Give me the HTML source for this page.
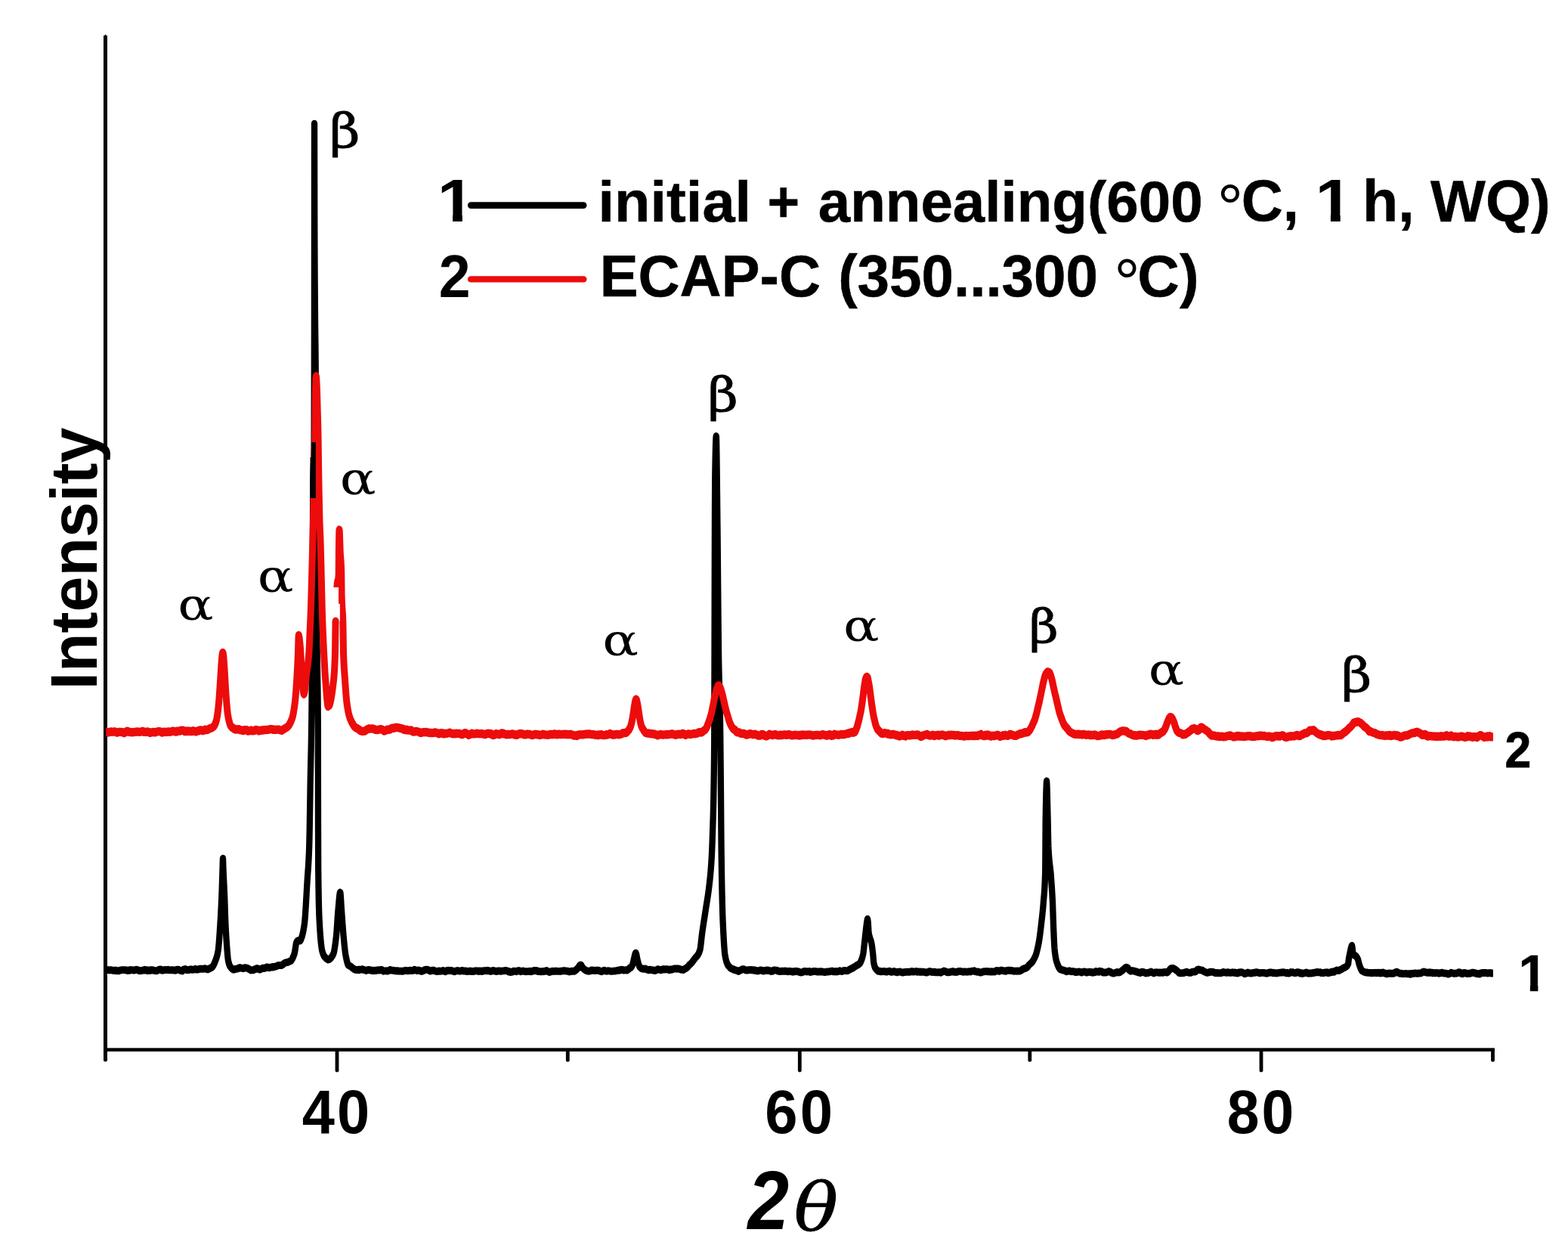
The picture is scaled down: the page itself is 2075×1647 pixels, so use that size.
<!DOCTYPE html>
<html lang="en">
<head>
<meta charset="utf-8">
<title>XRD patterns</title>
<style>
html,body{margin:0;padding:0;background:#fff;}
body{width:2075px;height:1647px;overflow:hidden;}
svg{display:block;position:absolute;left:0;top:0;}
text{fill:#000;font-size:100px;}
.ls{font-family:"Liberation Sans",Arial,Helvetica,sans-serif;}
.gk{font-family:"DejaVu Serif","Liberation Serif",serif;}
.b{font-weight:700;}
.i{font-style:italic;}
</style>
</head>
<body>
<svg width="2075" height="1647" viewBox="0 0 2075 1647">
<rect x="0" y="0" width="2075" height="1647" fill="#ffffff"/>
<!-- y label -->
<text class="ls b" transform="translate(127.70,912.48) rotate(-90) scale(0.8438,0.8680)">Intensity</text>
<!-- axes -->
<path d="M137,47.4 q0,-0.6 1.6,-0.7 l0.9,-1.4 l0.9,1.4 q1.6,0.1 1.6,0.7 V1402.8 q0,1.8 -2.5,1.8 q-2.5,0 -2.5,-1.8 Z" fill="#000"/>
<rect x="137" y="1386.4" width="1840.9" height="4.6" fill="#000"/>
<path d="M443.6,1388 h4.8 v28.6 q0,1.8 -2.4,1.8 q-2.4,0 -2.4,-1.8 z" fill="#000"/>
<path d="M748.9,1388 h4.8 v15 q0,1.8 -2.4,1.8 q-2.4,0 -2.4,-1.8 z" fill="#000"/>
<path d="M1055.9,1388 h4.8 v28.6 q0,1.8 -2.4,1.8 q-2.4,0 -2.4,-1.8 z" fill="#000"/>
<path d="M1360.4,1388 h4.8 v15 q0,1.8 -2.4,1.8 q-2.4,0 -2.4,-1.8 z" fill="#000"/>
<path d="M1666.6,1388 h4.8 v28.6 q0,1.8 -2.4,1.8 q-2.4,0 -2.4,-1.8 z" fill="#000"/>
<path d="M1973.1,1388 h4.8 v15 q0,1.8 -2.4,1.8 q-2.4,0 -2.4,-1.8 z" fill="#000"/>

<!-- curves -->
<g transform="scale(1,1.19)">
<polyline id="c1" points="140.30,1078.28 141.30,1078.28 142.30,1078.28 143.30,1078.19 144.30,1078.56 145.30,1078.47 146.30,1078.32 147.30,1078.33 148.30,1078.56 149.30,1078.85 150.30,1078.95 151.30,1079.03 152.30,1078.60 153.30,1078.77 154.30,1079.28 155.30,1079.17 156.30,1079.26 157.30,1079.26 158.30,1078.76 159.30,1078.58 160.30,1078.43 161.30,1078.21 162.30,1078.25 163.30,1078.25 164.30,1078.29 165.30,1078.35 166.30,1078.48 167.30,1078.59 168.30,1078.99 169.30,1078.62 170.30,1078.90 171.30,1078.77 172.30,1078.17 173.30,1078.48 174.30,1078.21 175.30,1078.50 176.30,1078.54 177.30,1078.63 178.30,1078.63 179.30,1078.01 180.30,1077.97 181.30,1078.06 182.30,1078.19 183.30,1078.82 184.30,1079.21 185.30,1079.16 186.30,1079.02 187.30,1079.05 188.30,1078.73 189.30,1078.61 190.30,1078.67 191.30,1078.03 192.30,1078.52 193.30,1078.37 194.30,1078.26 195.30,1079.11 196.30,1078.62 197.30,1078.67 198.30,1079.04 199.30,1078.30 200.30,1078.39 201.30,1078.62 202.30,1078.37 203.30,1078.74 204.30,1078.92 205.30,1079.10 206.30,1079.23 207.30,1079.22 208.30,1078.98 209.30,1078.50 210.30,1077.83 211.30,1077.85 212.30,1077.59 213.30,1077.94 214.30,1078.79 215.30,1078.39 216.30,1078.64 217.30,1078.32 218.30,1078.08 219.30,1078.12 220.30,1078.24 221.30,1078.22 222.30,1077.97 223.30,1078.45 224.30,1078.25 225.30,1078.38 226.30,1078.49 227.30,1078.38 228.30,1078.30 229.30,1078.53 230.30,1078.55 231.30,1078.54 232.30,1078.83 233.30,1078.20 234.30,1077.94 235.30,1077.91 236.30,1077.89 237.30,1078.23 238.30,1078.77 239.30,1079.07 240.30,1079.03 241.30,1079.47 242.30,1078.58 243.30,1077.60 244.30,1077.78 245.30,1077.26 246.30,1077.82 247.30,1078.38 248.30,1078.13 249.30,1078.32 250.30,1078.19 251.30,1077.69 252.30,1077.72 253.30,1077.57 254.30,1077.92 255.30,1077.96 256.30,1077.87 257.30,1077.68 258.30,1077.18 259.30,1077.76 260.30,1077.78 261.30,1077.70 262.30,1077.70 263.30,1077.41 264.30,1077.01 265.30,1076.96 266.30,1077.17 267.30,1077.08 268.00,1077.14 268.20,1077.16 268.40,1077.16 268.60,1077.14 268.80,1077.13 269.00,1077.12 269.20,1077.12 269.40,1077.09 269.60,1077.03 269.80,1076.98 270.00,1076.93 270.20,1076.89 270.40,1076.83 270.60,1076.76 270.80,1076.69 271.00,1076.63 271.20,1076.57 271.40,1076.58 271.60,1076.68 271.80,1076.77 272.00,1076.86 272.20,1076.96 272.40,1077.04 272.60,1077.13 272.80,1077.21 273.00,1077.29 273.20,1077.37 273.40,1077.43 273.60,1077.48 273.80,1077.52 274.00,1077.56 274.20,1077.60 274.40,1077.63 274.60,1077.65 274.80,1077.66 275.00,1077.66 275.20,1077.66 275.40,1077.60 275.60,1077.50 275.80,1077.38 276.00,1077.25 276.20,1077.12 276.40,1077.02 276.60,1076.96 276.80,1076.89 277.00,1076.83 277.20,1076.75 277.40,1076.68 277.60,1076.60 277.80,1076.51 278.00,1076.43 278.20,1076.34 278.40,1076.26 278.60,1076.19 278.80,1076.11 279.00,1076.03 279.20,1075.94 279.40,1075.86 279.60,1075.78 279.80,1075.70 280.00,1075.61 280.20,1075.52 280.40,1075.41 280.50,1075.34 280.60,1075.27 280.80,1075.12 281.00,1074.94 281.20,1074.74 281.40,1074.52 281.60,1074.26 281.80,1074.00 282.00,1073.72 282.20,1073.43 282.40,1073.13 282.60,1072.83 282.80,1072.51 283.00,1072.18 283.20,1071.84 283.40,1071.48 283.60,1071.10 283.80,1070.72 284.00,1070.32 284.20,1069.92 284.40,1069.50 284.60,1069.08 284.80,1068.64 285.00,1068.21 285.20,1067.76 285.40,1067.32 285.50,1067.11 285.60,1066.90 285.80,1066.46 286.00,1066.01 286.20,1065.53 286.40,1065.04 286.60,1064.51 286.80,1063.96 287.00,1063.37 287.20,1062.75 287.40,1062.08 287.60,1061.37 287.80,1060.62 288.00,1059.81 288.20,1058.96 288.40,1058.04 288.60,1057.06 288.80,1055.94 289.00,1054.60 289.20,1053.06 289.40,1051.33 289.60,1049.43 289.80,1047.39 290.00,1045.21 290.20,1042.92 290.40,1040.53 290.60,1038.06 290.80,1035.52 291.00,1032.94 291.20,1030.32 291.40,1027.70 291.50,1026.38 291.60,1025.06 291.80,1022.30 292.00,1019.41 292.20,1016.37 292.40,1013.18 292.60,1009.83 292.80,1006.32 293.00,1002.65 293.20,998.80 293.35,995.80 293.40,994.76 293.60,990.18 293.80,985.12 294.00,979.76 294.20,974.32 294.40,969.00 294.55,965.21 294.60,963.88 294.80,957.78 295.00,954.41 295.20,957.95 295.40,964.01 295.45,965.21 295.60,968.25 295.80,972.01 296.00,975.52 296.20,978.88 296.40,982.18 296.60,985.54 296.80,989.03 297.00,992.78 297.15,995.80 297.20,996.87 297.40,1001.61 297.60,1006.85 297.80,1012.26 298.00,1017.53 298.20,1022.34 298.40,1026.39 298.60,1029.85 298.80,1033.12 299.00,1036.22 299.20,1039.16 299.40,1041.94 299.60,1044.58 299.80,1047.09 300.00,1049.48 300.20,1051.76 300.40,1053.95 300.60,1056.05 300.70,1057.07 300.80,1058.08 301.00,1060.11 301.20,1062.07 301.40,1063.89 301.60,1065.47 301.80,1066.75 301.90,1067.25 302.00,1067.68 302.20,1068.51 302.40,1069.29 302.60,1070.01 302.80,1070.68 303.00,1071.29 303.20,1071.86 303.40,1072.37 303.60,1072.84 303.80,1073.25 304.00,1073.62 304.20,1073.93 304.40,1074.21 304.50,1074.34 304.60,1074.46 304.80,1074.69 305.00,1074.92 305.20,1075.14 305.40,1075.35 305.60,1075.55 305.80,1075.74 306.00,1075.92 306.20,1076.10 306.40,1076.27 306.60,1076.45 306.80,1076.62 307.00,1076.78 307.20,1076.94 307.40,1077.09 307.60,1077.23 307.80,1077.37 308.00,1077.50 308.20,1077.62 308.40,1077.71 308.60,1077.77 308.80,1077.81 309.00,1077.85 309.20,1077.88 309.40,1077.89 309.60,1077.88 309.80,1077.87 310.00,1077.85 310.20,1077.81 310.40,1077.75 310.60,1077.64 310.80,1077.53 311.00,1077.42 311.20,1077.30 311.40,1077.24 311.60,1077.23 311.80,1077.23 312.00,1077.22 312.20,1077.21 312.40,1077.19 312.60,1077.17 312.80,1077.14 313.00,1077.11 313.20,1077.08 313.40,1077.03 313.60,1076.96 313.80,1076.89 314.00,1076.82 314.20,1076.75 314.40,1076.72 314.60,1076.72 314.80,1076.72 315.00,1076.73 315.20,1076.74 315.40,1076.66 315.60,1076.48 315.80,1076.31 316.00,1076.15 316.20,1076.00 316.40,1075.89 316.60,1075.84 316.80,1075.79 317.00,1075.75 317.30,1075.70 318.30,1075.75 319.30,1076.20 320.30,1076.37 321.30,1076.59 322.30,1076.63 323.30,1075.95 324.30,1075.85 325.30,1075.94 326.30,1075.96 327.30,1076.27 328.00,1076.79 328.20,1076.94 328.40,1077.04 328.60,1077.07 328.80,1077.10 329.00,1077.14 329.20,1077.19 329.40,1077.24 329.60,1077.30 329.80,1077.37 330.00,1077.43 330.20,1077.50 330.40,1077.61 330.60,1077.75 330.80,1077.90 331.00,1078.04 331.20,1078.19 331.40,1078.30 331.60,1078.36 331.80,1078.42 332.00,1078.48 332.20,1078.54 332.40,1078.57 332.60,1078.55 332.80,1078.53 333.00,1078.51 333.20,1078.49 333.40,1078.48 333.60,1078.48 333.80,1078.48 334.00,1078.47 334.20,1078.46 334.40,1078.46 334.60,1078.45 334.80,1078.44 335.00,1078.43 335.20,1078.41 335.40,1078.33 335.60,1078.18 335.80,1078.03 336.00,1077.88 336.20,1077.72 336.40,1077.64 336.60,1077.65 336.80,1077.66 337.00,1077.67 337.20,1077.68 337.40,1077.65 337.60,1077.59 337.80,1077.53 338.00,1077.46 338.20,1077.40 338.40,1077.30 338.60,1077.17 338.80,1077.03 339.00,1076.90 339.20,1076.76 339.40,1076.69 339.60,1076.68 339.80,1076.67 340.00,1076.69 340.20,1076.64 340.40,1076.65 340.60,1076.68 340.80,1076.71 341.00,1076.73 341.20,1076.76 341.40,1076.82 341.60,1076.91 341.80,1077.00 342.00,1077.09 342.20,1077.18 342.40,1077.28 342.60,1077.39 342.80,1077.49 343.00,1077.60 343.20,1077.70 343.40,1077.77 343.60,1077.80 343.80,1077.82 344.00,1077.85 344.20,1077.87 344.40,1077.83 344.60,1077.71 344.80,1077.58 345.00,1077.46 345.20,1077.34 345.40,1077.24 345.60,1077.15 345.80,1077.07 346.00,1076.98 346.20,1076.90 346.40,1076.80 346.60,1076.69 346.80,1076.58 347.00,1076.47 347.20,1076.36 347.40,1076.30 347.60,1076.29 347.80,1076.28 348.00,1076.26 348.20,1076.25 348.40,1076.27 348.60,1076.33 348.80,1076.39 349.00,1076.44 349.20,1076.50 349.40,1076.47 349.60,1076.37 349.80,1076.26 350.00,1076.16 350.20,1076.05 350.40,1076.00 350.60,1076.01 350.80,1076.02 351.00,1076.02 351.20,1076.03 351.40,1075.97 351.60,1075.83 351.80,1075.69 352.00,1075.56 352.20,1075.42 352.40,1075.33 352.60,1075.28 352.80,1075.23 353.00,1075.17 353.20,1075.12 353.40,1075.13 353.60,1075.20 353.70,1075.23 353.80,1075.26 354.00,1075.33 354.20,1075.40 354.40,1075.42 354.60,1075.39 354.80,1075.36 355.00,1075.33 355.20,1075.30 355.40,1075.36 355.60,1075.49 355.80,1075.63 356.00,1075.77 356.20,1075.91 356.40,1075.93 356.60,1075.83 356.80,1075.73 357.00,1075.63 357.20,1075.53 357.40,1075.46 357.60,1075.44 357.80,1075.42 358.00,1075.39 358.20,1075.37 358.40,1075.35 358.60,1075.34 358.80,1075.33 359.00,1075.32 359.20,1075.31 359.40,1075.25 359.60,1075.14 359.80,1075.03 360.00,1074.91 360.20,1074.80 360.40,1074.80 360.60,1074.91 360.80,1075.01 361.00,1075.12 361.20,1075.22 361.40,1075.23 361.60,1075.14 361.80,1075.04 362.00,1074.95 362.20,1074.85 362.40,1074.79 362.60,1074.76 362.80,1074.72 363.00,1074.69 363.20,1074.66 363.40,1074.64 363.60,1074.65 363.80,1074.65 364.00,1074.65 364.20,1074.66 364.40,1074.61 364.60,1074.50 364.80,1074.39 365.00,1074.28 365.20,1074.17 365.40,1074.11 365.60,1074.09 365.80,1074.06 366.00,1074.04 366.20,1074.02 366.40,1073.96 366.60,1073.88 366.80,1073.80 367.00,1073.72 367.20,1073.63 367.40,1073.54 367.60,1073.44 367.80,1073.34 368.00,1073.24 368.20,1073.14 368.40,1073.10 368.60,1073.14 368.80,1073.17 369.00,1073.20 369.20,1073.23 369.40,1073.23 369.60,1073.21 369.80,1073.19 370.00,1073.17 370.20,1073.15 370.40,1073.14 370.60,1073.14 370.80,1073.14 371.00,1073.15 371.20,1073.15 371.40,1073.16 371.60,1073.17 371.80,1073.18 372.00,1073.20 372.20,1073.21 372.40,1073.17 372.60,1073.06 372.80,1072.96 373.00,1072.85 373.20,1072.75 373.40,1072.66 373.60,1072.58 373.80,1072.50 374.00,1072.42 374.20,1072.34 374.40,1072.22 374.60,1072.06 374.80,1071.91 375.00,1071.75 375.20,1071.59 375.40,1071.44 375.50,1071.37 375.60,1071.29 375.80,1071.15 376.00,1071.00 376.20,1070.86 376.40,1070.74 376.60,1070.65 376.80,1070.55 377.00,1070.46 377.20,1070.36 377.40,1070.30 377.60,1070.27 377.80,1070.24 378.00,1070.20 378.20,1070.17 378.40,1070.13 378.60,1070.07 378.80,1070.02 379.00,1069.97 379.20,1069.91 379.40,1069.88 379.60,1069.85 379.80,1069.83 380.00,1069.81 380.20,1069.78 380.40,1069.76 380.60,1069.73 380.80,1069.70 381.00,1069.68 381.20,1069.64 381.40,1069.57 381.60,1069.46 381.80,1069.35 382.00,1069.24 382.20,1069.12 382.40,1069.04 382.60,1068.98 382.80,1068.91 383.00,1068.84 383.20,1068.77 383.40,1068.71 383.60,1068.65 383.80,1068.59 384.00,1068.52 384.20,1068.45 384.40,1068.37 384.60,1068.28 384.80,1068.18 385.00,1068.06 385.20,1067.91 385.40,1067.72 385.60,1067.49 385.80,1067.26 386.00,1067.01 386.20,1066.74 386.40,1066.47 386.60,1066.19 386.80,1065.89 387.00,1065.58 387.20,1065.26 387.40,1064.91 387.60,1064.54 387.80,1064.15 388.00,1063.76 388.20,1063.36 388.40,1062.94 388.60,1062.51 388.80,1062.07 389.00,1061.62 389.20,1061.15 389.40,1060.69 389.50,1060.47 389.60,1060.22 389.80,1059.58 390.00,1058.79 390.20,1057.88 390.40,1056.86 390.60,1055.78 390.80,1054.65 391.00,1053.51 391.20,1052.38 391.40,1051.28 391.60,1050.25 391.80,1049.31 392.00,1048.50 392.20,1047.84 392.40,1047.39 392.50,1047.26 392.60,1047.14 392.80,1046.86 393.00,1046.60 393.20,1046.38 393.40,1046.18 393.60,1045.98 393.80,1045.84 394.00,1045.75 394.20,1045.70 394.40,1045.68 394.50,1045.66 394.60,1045.64 394.80,1045.61 395.00,1045.60 395.20,1045.61 395.40,1045.64 395.60,1045.68 395.80,1045.73 396.00,1045.79 396.20,1045.85 396.40,1045.90 396.60,1045.95 396.80,1045.96 397.00,1045.95 397.20,1045.84 397.40,1045.67 397.60,1045.43 397.80,1045.13 398.00,1044.78 398.20,1044.38 398.40,1043.94 398.60,1043.49 398.80,1043.01 399.00,1042.54 399.20,1042.07 399.40,1041.59 399.60,1041.08 399.80,1040.53 400.00,1039.95 400.20,1039.33 400.40,1038.68 400.60,1037.98 400.80,1037.25 401.00,1036.48 401.20,1035.67 401.40,1034.81 401.60,1033.91 401.80,1032.97 402.00,1031.98 402.20,1030.94 402.40,1029.85 402.60,1028.71 402.80,1027.52 402.90,1026.91 403.00,1026.25 403.20,1024.75 403.40,1023.01 403.60,1021.06 403.80,1018.91 404.00,1016.59 404.20,1014.11 404.40,1011.50 404.60,1008.77 404.80,1005.96 405.00,1003.06 405.20,1000.12 405.40,997.14 405.60,994.15 405.80,991.17 406.00,988.21 406.20,985.31 406.40,982.48 406.50,981.09 406.60,979.74 406.80,977.18 407.00,974.74 407.20,972.38 407.40,970.04 407.60,967.67 407.80,965.22 408.00,962.63 408.20,959.84 408.40,956.81 408.60,953.48 408.80,949.80 409.00,945.72 409.20,941.18 409.40,935.04 409.60,926.81 409.80,917.36 410.00,907.56 410.20,896.76 410.40,884.93 410.60,873.95 410.80,864.72 411.00,856.61 411.20,849.14 411.40,841.85 411.60,834.26 411.80,825.91 412.00,816.33 412.20,805.04 412.40,791.04 412.60,773.96 412.80,754.30 413.00,732.54 413.20,709.19 413.40,684.75 413.50,672.27 413.60,658.03 413.80,622.37 414.00,583.91 414.20,550.77 414.40,531.09 414.60,523.27 414.80,518.93 415.00,516.05 415.20,512.58 415.40,506.51 415.60,495.80 415.80,420.17 415.90,352.94 416.00,183.40 416.05,137.48 416.20,203.15 416.30,252.10 416.40,274.01 416.60,307.81 416.80,332.45 417.00,352.94 417.20,369.07 417.40,381.81 417.60,397.98 417.65,403.36 417.80,427.33 418.00,473.54 418.20,523.77 418.30,546.22 418.40,567.85 418.60,613.34 418.80,654.66 419.00,683.19 419.20,699.73 419.40,712.14 419.60,722.40 419.80,732.54 420.00,744.54 420.20,755.19 420.40,764.38 420.60,778.78 420.80,805.04 420.90,873.95 421.00,916.04 421.20,965.55 421.40,979.90 421.60,991.56 421.80,1000.90 422.00,1008.28 422.20,1014.05 422.40,1018.59 422.60,1022.25 422.80,1025.40 422.90,1026.89 423.00,1028.37 423.20,1031.19 423.40,1033.85 423.60,1036.37 423.80,1038.73 424.00,1040.94 424.20,1043.02 424.40,1044.95 424.60,1046.74 424.80,1048.41 425.00,1049.94 425.20,1051.35 425.40,1052.64 425.60,1053.80 425.80,1054.84 426.00,1055.78 426.20,1056.60 426.40,1057.31 426.50,1057.62 426.60,1057.92 426.80,1058.50 427.00,1059.05 427.20,1059.56 427.40,1060.05 427.60,1060.52 427.80,1060.96 428.00,1061.38 428.20,1061.77 428.40,1062.12 428.60,1062.43 428.80,1062.71 429.00,1062.97 429.20,1063.19 429.40,1063.39 429.60,1063.58 429.80,1063.74 430.00,1063.87 430.20,1064.04 430.40,1064.24 430.60,1064.47 430.80,1064.71 431.00,1064.94 431.20,1065.17 431.40,1065.34 431.60,1065.43 431.80,1065.52 432.00,1065.60 432.20,1065.67 432.40,1065.78 432.60,1065.93 432.80,1066.08 433.00,1066.22 433.20,1066.36 433.40,1066.47 433.60,1066.57 433.80,1066.65 434.00,1066.73 434.20,1066.80 434.40,1066.80 434.60,1066.74 434.70,1066.71 434.80,1066.67 435.00,1066.58 435.20,1066.48 435.40,1066.43 435.60,1066.42 435.80,1066.39 436.00,1066.34 436.20,1066.28 436.40,1066.17 436.60,1066.01 436.80,1065.85 437.00,1065.67 437.20,1065.49 437.40,1065.32 437.60,1065.16 437.80,1064.98 438.00,1064.79 438.20,1064.59 438.40,1064.39 438.60,1064.20 438.80,1063.99 439.00,1063.76 439.20,1063.53 439.40,1063.27 439.60,1062.98 439.80,1062.69 440.00,1062.39 440.20,1062.07 440.40,1061.76 440.60,1061.44 440.80,1061.11 441.00,1060.77 441.10,1060.59 441.20,1060.40 441.40,1059.93 441.60,1059.38 441.80,1058.75 442.00,1058.04 442.20,1057.26 442.40,1056.41 442.60,1055.48 442.80,1054.50 443.00,1053.45 443.20,1052.35 443.40,1051.19 443.60,1049.99 443.80,1048.74 444.00,1047.46 444.20,1046.13 444.40,1044.78 444.60,1043.40 444.80,1042.00 445.00,1040.45 445.20,1038.61 445.40,1036.55 445.60,1034.30 445.80,1031.90 446.00,1029.41 446.20,1026.85 446.40,1024.28 446.60,1021.73 446.80,1019.26 447.00,1016.89 447.20,1014.68 447.40,1012.67 447.50,1011.75 447.60,1010.85 447.80,1008.98 448.00,1007.04 448.20,1005.06 448.40,1003.10 448.60,1001.18 448.80,999.34 449.00,997.62 449.20,996.06 449.40,994.70 449.60,993.58 449.80,992.72 450.00,992.18 450.20,992.03 450.40,992.48 450.60,993.76 450.80,995.68 451.00,998.09 451.20,1000.83 451.40,1003.73 451.60,1006.63 451.80,1009.36 452.00,1011.77 452.20,1013.98 452.40,1016.25 452.60,1018.55 452.80,1020.87 453.00,1023.20 453.20,1025.52 453.40,1027.82 453.60,1030.09 453.80,1032.32 454.00,1034.49 454.20,1036.60 454.40,1038.61 454.60,1040.54 454.80,1042.35 455.00,1044.10 455.20,1045.85 455.40,1047.58 455.60,1049.28 455.80,1050.95 456.00,1052.57 456.20,1054.13 456.40,1055.63 456.60,1057.05 456.80,1058.37 457.00,1059.61 457.20,1060.73 457.40,1061.74 457.50,1062.19 457.60,1062.63 457.80,1063.50 458.00,1064.35 458.20,1065.17 458.40,1065.98 458.60,1066.75 458.80,1067.50 459.00,1068.22 459.20,1068.90 459.40,1069.55 459.60,1070.16 459.80,1070.72 460.00,1071.24 460.20,1071.72 460.40,1072.14 460.60,1072.48 460.80,1072.75 461.00,1072.93 461.10,1072.99 461.20,1073.04 461.40,1073.15 461.60,1073.28 461.80,1073.40 462.00,1073.51 462.20,1073.61 462.40,1073.70 462.60,1073.78 462.80,1073.85 463.00,1073.91 463.20,1073.97 463.40,1074.04 463.60,1074.13 463.80,1074.22 464.00,1074.31 464.20,1074.39 464.40,1074.49 464.60,1074.63 464.80,1074.77 465.00,1074.90 465.20,1075.04 465.40,1075.20 465.60,1075.38 465.80,1075.57 466.00,1075.75 466.20,1075.94 466.40,1076.08 466.60,1076.18 466.80,1076.27 467.00,1076.37 467.20,1076.46 467.40,1076.58 467.60,1076.72 467.80,1076.86 468.00,1077.00 468.20,1077.14 468.40,1077.26 468.60,1077.36 468.80,1077.45 469.00,1077.55 469.20,1077.65 469.40,1077.73 469.60,1077.80 469.80,1077.87 470.00,1077.93 470.20,1078.00 470.40,1078.04 470.60,1078.07 470.80,1078.08 471.00,1078.10 471.20,1078.11 471.40,1078.13 471.60,1078.15 471.80,1078.16 472.00,1078.18 472.20,1078.18 472.40,1078.18 472.60,1078.17 472.80,1078.15 473.00,1078.13 473.20,1078.10 473.40,1078.06 473.60,1078.02 473.80,1077.97 474.00,1077.92 474.20,1077.86 474.40,1077.89 474.60,1078.01 474.80,1078.12 475.00,1078.23 475.20,1078.35 475.40,1078.35 475.60,1078.23 475.80,1078.11 476.00,1078.00 476.20,1077.88 476.40,1077.83 476.60,1077.84 476.80,1077.85 477.00,1077.86 477.20,1077.88 477.40,1077.88 477.60,1077.87 477.80,1077.87 478.00,1077.87 478.30,1077.87 479.30,1077.53 480.30,1077.64 481.30,1078.15 482.30,1078.15 483.30,1078.53 484.30,1078.96 485.30,1078.47 486.30,1078.38 487.30,1078.44 488.30,1078.08 489.30,1078.27 490.30,1078.55 491.30,1078.49 492.30,1079.02 493.30,1078.82 494.30,1079.18 495.30,1078.93 496.30,1078.77 497.30,1079.12 498.30,1078.62 499.30,1078.45 500.30,1078.40 501.30,1078.72 502.30,1078.48 503.30,1078.16 504.30,1078.37 505.30,1078.16 506.30,1078.65 507.30,1079.61 508.30,1079.34 509.30,1079.32 510.30,1079.28 511.30,1079.18 512.30,1079.59 513.30,1079.37 514.30,1078.95 515.30,1078.62 516.30,1078.03 517.30,1078.49 518.30,1078.72 519.30,1078.71 520.30,1078.88 521.30,1078.99 522.30,1079.15 523.30,1079.15 524.30,1079.50 525.30,1079.14 526.30,1079.22 527.30,1079.62 528.30,1079.43 529.30,1079.57 530.30,1079.55 531.30,1079.52 532.30,1079.72 533.30,1079.62 534.30,1079.37 535.30,1079.19 536.30,1078.82 537.30,1078.97 538.30,1079.13 539.30,1079.20 540.30,1079.32 541.30,1079.00 542.30,1078.78 543.30,1078.92 544.30,1078.99 545.30,1079.12 546.30,1078.93 547.30,1078.67 548.30,1077.94 549.30,1078.31 550.30,1078.66 551.30,1078.69 552.30,1079.15 553.30,1078.60 554.30,1078.80 555.30,1078.75 556.30,1079.17 557.30,1079.72 558.30,1079.73 559.30,1079.35 560.30,1079.04 561.30,1078.49 562.30,1078.14 563.30,1078.10 564.30,1077.86 565.30,1077.96 566.30,1078.03 567.30,1078.63 568.30,1079.02 569.30,1079.52 570.30,1079.24 571.30,1078.81 572.30,1078.95 573.30,1078.56 574.30,1078.76 575.30,1079.25 576.30,1079.45 577.30,1079.81 578.30,1079.95 579.30,1079.77 580.30,1079.58 581.30,1079.30 582.30,1079.62 583.30,1079.52 584.30,1079.55 585.30,1079.04 586.30,1078.98 587.30,1079.47 588.30,1079.38 589.30,1080.12 590.30,1079.58 591.30,1079.13 592.30,1078.79 593.30,1078.63 594.30,1079.13 595.30,1078.90 596.30,1079.06 597.30,1078.85 598.30,1079.29 599.30,1079.59 600.30,1079.81 601.30,1080.03 602.30,1079.54 603.30,1079.51 604.30,1079.18 605.30,1078.95 606.30,1079.25 607.30,1079.37 608.30,1079.59 609.30,1079.44 610.30,1079.06 611.30,1079.01 612.30,1078.95 613.30,1079.46 614.30,1079.34 615.30,1079.30 616.30,1079.64 617.30,1079.49 618.30,1079.88 619.30,1079.87 620.30,1079.58 621.30,1079.64 622.30,1079.43 623.30,1079.76 624.30,1079.95 625.30,1079.84 626.30,1079.89 627.30,1079.78 628.30,1079.43 629.30,1079.41 630.30,1079.23 631.30,1079.36 632.30,1079.50 633.30,1079.78 634.30,1079.57 635.30,1079.28 636.30,1079.64 637.30,1079.34 638.30,1079.89 639.30,1079.44 640.30,1079.21 641.30,1079.31 642.30,1079.02 643.30,1079.14 644.30,1079.28 645.30,1078.72 646.30,1078.97 647.30,1079.38 648.30,1079.45 649.30,1079.92 650.30,1079.46 651.30,1079.28 652.30,1078.95 653.30,1079.14 654.30,1079.33 655.30,1079.54 656.30,1079.76 657.30,1079.94 658.30,1079.56 659.30,1079.38 660.30,1079.43 661.30,1079.26 662.30,1079.59 663.30,1079.63 664.30,1079.45 665.30,1079.33 666.30,1079.33 667.30,1079.24 668.30,1079.01 669.30,1078.90 670.30,1079.34 671.30,1079.28 672.30,1079.75 673.30,1080.28 674.30,1080.01 675.30,1080.77 676.30,1080.52 677.30,1080.46 678.30,1080.40 679.30,1079.60 680.30,1079.71 681.30,1079.76 682.30,1079.64 683.30,1080.03 684.30,1079.72 685.30,1079.10 686.30,1079.33 687.30,1079.19 688.30,1079.54 689.30,1080.03 690.30,1079.66 691.30,1079.55 692.30,1079.43 693.30,1079.67 694.30,1079.87 695.30,1079.92 696.30,1080.01 697.30,1079.96 698.30,1079.91 699.30,1079.95 700.30,1079.86 701.30,1079.56 702.30,1080.19 703.30,1079.98 704.30,1079.59 705.30,1079.46 706.30,1079.08 707.30,1078.86 708.30,1079.10 709.30,1079.29 710.30,1079.05 711.30,1079.67 712.30,1079.85 713.30,1079.78 714.30,1080.00 715.30,1079.95 716.30,1080.19 717.30,1079.92 718.30,1079.85 719.30,1080.05 720.30,1079.64 721.30,1079.68 722.30,1079.48 723.30,1079.01 724.30,1079.60 725.30,1079.79 726.30,1080.39 727.30,1080.77 728.30,1080.32 729.30,1080.15 730.30,1079.78 731.30,1079.61 732.30,1079.79 733.30,1079.66 734.30,1079.63 735.30,1079.75 736.30,1079.48 737.30,1079.62 738.30,1079.71 739.30,1079.73 740.30,1079.75 741.30,1079.80 742.30,1079.54 743.30,1079.53 744.30,1079.52 745.30,1079.16 746.30,1079.21 747.30,1079.21 748.30,1079.29 749.30,1079.43 750.30,1079.65 751.30,1079.63 752.30,1079.69 753.30,1080.21 754.30,1079.94 755.30,1079.90 755.90,1079.76 756.15,1079.70 756.30,1079.66 756.40,1079.65 756.65,1079.60 756.90,1079.56 757.15,1079.51 757.30,1079.49 757.40,1079.51 757.65,1079.58 757.90,1079.65 758.15,1079.71 758.30,1079.75 758.40,1079.74 758.65,1079.71 758.90,1079.67 759.15,1079.63 759.30,1079.61 759.40,1079.62 759.65,1079.64 759.90,1079.65 760.15,1079.65 760.30,1079.66 760.40,1079.59 760.65,1079.42 760.90,1079.25 761.15,1079.07 761.30,1078.95 761.40,1078.90 761.65,1078.77 761.90,1078.62 762.15,1078.46 762.30,1078.36 762.40,1078.26 762.65,1078.01 762.90,1077.74 763.15,1077.46 763.30,1077.28 763.40,1077.22 763.65,1077.08 763.90,1076.93 764.15,1076.75 764.30,1076.64 764.40,1076.58 764.65,1076.41 764.90,1076.23 765.15,1076.05 765.30,1075.93 765.40,1075.77 765.65,1075.34 765.90,1074.92 766.15,1074.51 766.30,1074.27 766.40,1074.13 766.65,1073.80 766.90,1073.50 767.15,1073.24 767.30,1073.11 767.40,1073.04 767.65,1072.91 767.90,1072.83 768.15,1072.81 768.30,1072.82 768.40,1072.81 768.65,1072.83 768.90,1072.89 769.15,1072.99 769.30,1073.06 769.40,1073.21 769.65,1073.60 769.90,1074.00 770.15,1074.41 770.30,1074.66 770.40,1074.81 770.65,1075.19 770.90,1075.56 771.15,1075.92 771.30,1076.14 771.40,1076.22 771.65,1076.41 771.90,1076.59 772.15,1076.76 772.30,1076.85 772.40,1076.94 772.65,1077.16 772.90,1077.35 773.15,1077.54 773.30,1077.64 773.40,1077.70 773.65,1077.84 773.90,1077.97 774.15,1078.09 774.30,1078.15 774.40,1078.22 774.65,1078.36 774.90,1078.49 775.15,1078.62 775.30,1078.69 775.40,1078.75 775.65,1078.88 775.90,1079.01 776.15,1079.13 776.30,1079.20 776.40,1079.21 776.65,1079.24 776.90,1079.26 777.15,1079.28 777.30,1079.29 777.40,1079.32 777.65,1079.38 777.90,1079.43 778.15,1079.49 778.30,1079.52 778.40,1079.53 778.65,1079.56 778.90,1079.60 779.15,1079.62 779.30,1079.64 779.40,1079.62 779.65,1079.58 779.90,1079.53 780.30,1079.46 781.30,1079.30 782.30,1078.63 783.30,1078.88 784.30,1078.50 785.30,1078.79 786.30,1079.12 787.30,1078.69 788.30,1079.01 789.30,1078.77 790.30,1078.57 791.30,1078.99 792.30,1078.76 793.30,1079.24 794.30,1079.66 795.30,1079.79 796.30,1080.07 797.30,1079.48 798.30,1079.18 799.30,1078.73 800.30,1078.90 801.30,1079.38 802.30,1079.41 803.30,1079.59 804.30,1079.22 805.30,1079.26 806.30,1079.39 807.30,1079.53 808.30,1079.67 809.30,1079.75 810.30,1079.70 811.30,1079.59 812.30,1079.46 813.30,1079.36 814.30,1079.39 815.30,1079.17 816.30,1079.08 817.30,1078.84 818.30,1078.86 819.30,1078.32 820.30,1078.65 821.30,1078.13 822.30,1077.91 823.30,1078.29 824.30,1078.10 825.30,1078.60 826.30,1078.52 827.30,1078.49 828.30,1078.38 829.20,1078.64 829.30,1078.66 829.45,1078.65 829.70,1078.61 829.95,1078.58 830.20,1078.54 830.30,1078.52 830.45,1078.40 830.70,1078.21 830.95,1078.01 831.20,1077.81 831.30,1077.73 831.45,1077.63 831.70,1077.46 831.95,1077.28 832.20,1077.10 832.30,1077.02 832.45,1076.89 832.70,1076.65 832.95,1076.41 833.20,1076.16 833.30,1076.06 833.45,1076.07 833.70,1076.07 833.95,1076.06 834.20,1076.03 834.30,1076.02 834.45,1075.94 834.70,1075.78 834.95,1075.61 835.20,1075.41 835.30,1075.33 835.45,1075.15 835.70,1074.83 835.95,1074.49 836.20,1074.11 836.30,1073.94 836.45,1073.69 836.70,1073.24 836.95,1072.74 837.20,1072.20 837.30,1071.96 837.45,1071.49 837.70,1070.66 837.95,1069.78 838.20,1068.83 838.30,1068.43 838.45,1067.91 838.70,1066.99 838.95,1066.02 839.20,1065.02 839.30,1064.62 839.45,1064.07 839.70,1063.17 839.95,1062.32 840.20,1061.55 840.30,1061.28 840.45,1060.80 840.70,1060.15 840.95,1059.69 841.20,1059.47 841.30,1059.44 841.45,1059.53 841.70,1059.87 841.95,1060.43 842.20,1061.17 842.30,1061.51 842.45,1062.15 842.70,1063.29 842.95,1064.48 843.20,1065.67 843.30,1066.14 843.45,1066.67 843.70,1067.52 843.95,1068.31 844.20,1069.05 844.30,1069.32 844.45,1069.83 844.70,1070.62 844.95,1071.35 845.20,1072.01 845.30,1072.27 845.45,1072.66 845.70,1073.27 845.95,1073.84 846.20,1074.35 846.30,1074.55 846.45,1074.71 846.70,1074.96 846.95,1075.16 847.20,1075.34 847.30,1075.41 847.45,1075.56 847.70,1075.79 847.95,1076.01 848.20,1076.20 848.30,1076.27 848.45,1076.36 848.70,1076.49 848.95,1076.62 849.20,1076.72 849.30,1076.76 849.45,1076.80 849.70,1076.86 849.95,1076.90 850.20,1076.94 850.30,1076.96 850.45,1076.96 850.70,1076.96 850.95,1076.95 851.20,1076.94 851.30,1076.94 851.45,1076.99 851.70,1077.06 851.95,1077.14 852.20,1077.21 852.30,1077.24 852.45,1077.23 852.70,1077.22 852.95,1077.21 853.20,1077.20 853.30,1077.19 854.30,1076.86 855.30,1077.60 856.30,1077.79 857.30,1078.07 858.30,1078.47 859.30,1078.04 860.30,1077.81 861.30,1078.18 862.30,1078.29 863.30,1078.25 864.30,1078.68 865.30,1078.74 866.30,1078.64 867.30,1078.93 868.30,1078.46 869.30,1078.08 870.30,1077.51 871.30,1077.62 872.30,1077.83 873.30,1078.13 874.30,1078.34 875.30,1078.24 876.30,1077.87 877.30,1077.43 878.30,1077.68 879.30,1077.51 880.30,1077.80 881.30,1077.45 882.30,1077.57 883.30,1077.57 884.30,1077.77 885.30,1078.33 886.30,1077.86 887.30,1077.72 888.30,1077.97 889.30,1077.43 890.30,1077.51 891.30,1077.19 892.30,1076.87 893.00,1076.95 893.20,1076.98 893.40,1076.97 893.60,1076.91 893.80,1076.86 894.00,1076.82 894.20,1076.79 894.40,1076.80 894.60,1076.85 894.80,1076.91 895.00,1076.98 895.20,1077.06 895.40,1077.06 895.60,1077.01 895.80,1076.96 896.00,1076.91 896.20,1076.87 896.40,1076.84 896.60,1076.83 896.80,1076.83 897.00,1076.84 897.20,1076.82 897.40,1076.84 897.60,1076.87 897.80,1076.89 898.00,1076.92 898.20,1076.94 898.40,1076.99 898.60,1077.07 898.80,1077.15 899.00,1077.21 899.20,1077.27 899.40,1077.33 899.60,1077.39 899.80,1077.44 900.00,1077.48 900.20,1077.51 900.40,1077.57 900.60,1077.66 900.80,1077.75 901.00,1077.81 901.20,1077.87 901.40,1077.92 901.60,1077.95 901.80,1077.98 902.00,1078.01 902.20,1078.03 902.40,1078.04 902.60,1078.03 902.80,1078.01 903.00,1077.99 903.20,1077.97 903.40,1077.99 903.60,1078.05 903.80,1078.11 904.00,1078.16 904.20,1078.22 904.40,1078.18 904.60,1078.06 904.80,1077.93 905.00,1077.81 905.20,1077.68 905.40,1077.57 905.60,1077.47 905.80,1077.37 906.00,1077.26 906.20,1077.16 906.40,1077.06 906.60,1076.99 906.80,1076.91 907.00,1076.83 907.20,1076.74 907.40,1076.64 907.60,1076.54 907.80,1076.43 908.00,1076.33 908.20,1076.21 908.40,1076.09 908.60,1075.97 908.80,1075.84 909.00,1075.70 909.20,1075.57 909.40,1075.42 909.60,1075.26 909.80,1075.10 910.00,1074.93 910.20,1074.77 910.40,1074.59 910.60,1074.40 910.80,1074.21 911.00,1074.02 911.20,1073.82 911.40,1073.61 911.60,1073.37 911.80,1073.14 912.00,1072.90 912.20,1072.67 912.40,1072.49 912.50,1072.44 912.60,1072.38 912.80,1072.27 913.00,1072.15 913.20,1072.04 913.40,1071.90 913.60,1071.75 913.80,1071.60 914.00,1071.44 914.20,1071.28 914.40,1071.11 914.60,1070.93 914.80,1070.75 915.00,1070.56 915.20,1070.38 915.40,1070.19 915.60,1070.00 915.80,1069.81 916.00,1069.61 916.20,1069.41 916.40,1069.19 916.60,1068.93 916.80,1068.68 917.00,1068.42 917.20,1068.16 917.40,1067.92 917.60,1067.70 917.80,1067.48 918.00,1067.25 918.20,1067.02 918.40,1066.80 918.60,1066.60 918.80,1066.39 919.00,1066.18 919.20,1065.96 919.40,1065.75 919.60,1065.53 919.80,1065.32 920.00,1065.10 920.10,1064.99 920.20,1064.87 920.40,1064.65 920.60,1064.43 920.80,1064.22 921.00,1064.02 921.20,1063.82 921.40,1063.64 921.60,1063.50 921.80,1063.35 922.00,1063.20 922.20,1063.05 922.40,1062.86 922.60,1062.64 922.80,1062.41 923.00,1062.17 923.20,1061.93 923.40,1061.66 923.60,1061.39 923.80,1061.10 924.00,1060.79 924.20,1060.48 924.40,1060.16 924.60,1059.83 924.80,1059.48 925.00,1059.11 925.20,1058.73 925.40,1058.31 925.60,1057.86 925.80,1057.39 926.00,1056.89 926.20,1056.38 926.40,1055.73 926.60,1054.90 926.80,1053.92 927.00,1052.79 927.20,1051.53 927.40,1050.18 927.60,1048.75 927.80,1047.26 928.00,1045.73 928.20,1044.20 928.40,1042.68 928.60,1041.19 928.80,1039.76 929.00,1038.41 929.20,1037.16 929.40,1035.97 929.60,1034.80 929.80,1033.64 930.00,1032.49 930.20,1031.36 930.40,1030.23 930.60,1029.12 930.80,1028.02 931.00,1026.92 931.20,1025.83 931.40,1024.74 931.60,1023.65 931.80,1022.57 932.00,1021.49 932.20,1020.41 932.40,1019.33 932.60,1018.24 932.80,1017.16 933.00,1016.07 933.20,1014.97 933.40,1013.87 933.60,1012.77 933.80,1011.66 934.00,1010.55 934.20,1009.46 934.40,1008.39 934.60,1007.32 934.80,1006.27 935.00,1005.22 935.20,1004.18 935.40,1003.13 935.60,1002.09 935.80,1001.04 936.00,999.99 936.20,998.92 936.40,997.83 936.60,996.73 936.80,995.60 937.00,994.45 937.20,993.27 937.40,992.05 937.60,990.81 937.80,989.52 938.00,988.19 938.20,986.82 938.30,986.12 938.40,985.41 938.60,983.99 938.80,982.55 939.00,981.09 939.20,979.59 939.40,978.05 939.60,976.45 939.80,974.79 940.00,973.06 940.20,971.24 940.40,969.33 940.60,967.32 940.80,965.20 941.00,962.95 941.20,960.58 941.40,958.07 941.60,955.32 941.80,952.22 942.00,948.78 942.20,944.98 942.40,940.82 942.60,936.28 942.80,931.35 942.90,928.74 943.00,926.14 943.20,921.15 943.40,916.20 943.60,910.99 943.80,905.23 944.00,898.62 944.20,890.86 944.40,881.65 944.60,870.69 944.80,857.69 945.00,842.35 945.20,824.37 945.40,771.02 945.50,735.29 945.60,697.37 945.80,621.85 946.00,566.79 946.20,533.61 946.40,521.82 946.60,511.74 946.80,503.31 947.00,496.51 947.20,491.28 947.40,487.60 947.60,485.43 947.80,484.89 948.00,487.26 948.20,494.31 948.40,504.94 948.60,518.23 948.80,533.29 949.00,549.18 949.20,565.00 949.40,579.83 949.60,595.29 949.80,613.08 950.00,632.38 950.20,652.40 950.40,672.35 950.60,691.41 950.80,708.79 951.00,723.68 951.20,735.29 951.40,744.02 951.60,751.13 951.80,757.17 952.00,762.67 952.20,768.16 952.40,774.18 952.60,781.25 952.80,789.92 953.00,800.80 953.20,813.95 953.40,829.02 953.60,845.67 953.80,863.56 954.00,882.35 954.20,905.99 954.40,928.57 954.60,944.52 954.80,958.33 955.00,970.08 955.20,979.83 955.40,988.27 955.60,996.04 955.80,1003.13 956.00,1009.52 956.20,1015.20 956.40,1020.15 956.60,1024.37 956.80,1028.16 957.00,1031.81 957.20,1035.32 957.40,1038.68 957.60,1041.88 957.80,1044.91 958.00,1047.75 958.20,1050.41 958.40,1052.86 958.60,1055.09 958.80,1057.10 959.00,1058.88 959.20,1060.41 959.40,1061.69 959.60,1062.70 959.80,1063.56 960.00,1064.38 960.20,1065.16 960.40,1065.91 960.60,1066.62 960.80,1067.30 961.00,1067.95 961.20,1068.56 961.40,1069.14 961.60,1069.67 961.80,1070.18 962.00,1070.65 962.20,1071.09 962.40,1071.50 962.60,1071.88 962.80,1072.22 963.00,1072.53 963.20,1072.81 963.40,1073.06 963.60,1073.30 963.80,1073.50 964.00,1073.67 964.20,1073.81 964.40,1073.98 964.60,1074.16 964.80,1074.34 965.00,1074.51 965.20,1074.68 965.40,1074.88 965.60,1075.12 965.80,1075.36 966.00,1075.59 966.20,1075.83 966.40,1076.00 966.60,1076.09 966.80,1076.19 967.00,1076.27 967.20,1076.36 967.40,1076.46 967.60,1076.58 967.80,1076.70 968.00,1076.82 968.20,1076.93 968.40,1077.01 968.60,1077.07 968.80,1077.12 969.00,1077.17 969.20,1077.22 969.40,1077.25 969.60,1077.27 969.80,1077.29 970.00,1077.31 970.20,1077.32 970.40,1077.41 970.60,1077.58 970.80,1077.76 971.00,1077.93 971.20,1078.11 971.40,1078.21 971.60,1078.24 971.80,1078.26 972.00,1078.29 972.20,1078.31 972.40,1078.32 972.60,1078.33 972.80,1078.34 973.00,1078.35 973.20,1078.35 973.30,1078.35 973.40,1078.39 973.60,1078.48 973.80,1078.57 974.00,1078.66 974.20,1078.75 974.40,1078.83 974.60,1078.89 974.80,1078.95 975.00,1079.01 975.20,1079.08 975.40,1079.14 975.60,1079.19 975.80,1079.25 976.00,1079.30 976.20,1079.36 976.40,1079.43 976.60,1079.52 976.80,1079.61 977.00,1079.69 977.20,1079.78 977.40,1079.78 977.60,1079.71 977.80,1079.62 978.00,1079.53 978.20,1079.43 978.40,1079.30 978.60,1079.16 978.80,1079.02 979.00,1078.86 979.20,1078.70 979.40,1078.61 979.60,1078.59 979.80,1078.57 980.00,1078.54 980.20,1078.51 980.40,1078.45 980.60,1078.34 980.80,1078.23 981.00,1078.12 981.20,1078.02 981.40,1077.92 981.60,1077.82 981.80,1077.72 982.00,1077.63 982.20,1077.54 982.40,1077.48 982.60,1077.45 982.80,1077.43 983.00,1077.42 983.20,1077.41 983.40,1077.41 983.60,1077.42 983.80,1077.44 984.00,1077.47 984.20,1077.50 984.40,1077.55 984.60,1077.60 984.80,1077.67 985.00,1077.74 985.30,1077.86 986.30,1078.30 987.30,1078.57 988.30,1078.50 989.30,1078.66 990.30,1078.39 991.30,1078.40 992.30,1078.13 993.30,1078.08 994.30,1078.44 995.30,1078.10 996.30,1078.58 997.30,1078.64 998.30,1078.31 999.30,1079.09 1000.30,1078.90 1001.30,1078.99 1002.30,1079.45 1003.30,1079.26 1004.30,1079.15 1005.30,1078.69 1006.30,1078.57 1007.30,1078.61 1008.30,1078.77 1009.30,1079.33 1010.30,1079.48 1011.30,1078.95 1012.30,1079.13 1013.30,1078.82 1014.30,1078.55 1015.30,1079.02 1016.30,1078.55 1017.30,1078.84 1018.30,1078.96 1019.30,1079.50 1020.30,1079.78 1021.30,1079.58 1022.30,1079.66 1023.30,1078.73 1024.30,1078.60 1025.30,1078.56 1026.30,1078.65 1027.30,1078.65 1028.30,1078.88 1029.30,1079.37 1030.30,1079.36 1031.30,1079.87 1032.30,1079.98 1033.30,1079.50 1034.30,1079.52 1035.30,1079.76 1036.30,1079.72 1037.30,1079.63 1038.30,1079.33 1039.30,1079.65 1040.30,1079.72 1041.30,1079.65 1042.30,1080.11 1043.30,1079.75 1044.30,1079.68 1045.30,1079.63 1046.30,1080.02 1047.30,1080.01 1048.30,1079.95 1049.30,1080.55 1050.30,1080.09 1051.30,1079.88 1052.30,1080.14 1053.30,1079.53 1054.30,1079.82 1055.30,1080.00 1056.30,1079.97 1057.30,1080.65 1058.30,1080.78 1059.30,1081.03 1060.30,1081.07 1061.30,1080.77 1062.30,1080.58 1063.30,1080.14 1064.30,1079.72 1065.30,1079.92 1066.30,1079.85 1067.30,1080.24 1068.30,1079.97 1069.30,1080.01 1070.30,1080.09 1071.30,1079.84 1072.30,1080.68 1073.30,1080.34 1074.30,1080.27 1075.30,1080.16 1076.30,1079.82 1077.30,1079.80 1078.30,1079.69 1079.30,1079.93 1080.30,1079.96 1081.30,1080.26 1082.30,1080.12 1083.30,1080.33 1084.30,1080.14 1085.30,1080.06 1086.30,1080.38 1087.30,1079.96 1088.30,1080.30 1089.30,1080.33 1090.30,1080.59 1091.30,1080.75 1092.30,1080.67 1093.30,1080.43 1094.30,1080.14 1095.30,1080.24 1096.30,1080.23 1097.30,1080.20 1098.30,1079.96 1099.30,1079.66 1100.30,1079.56 1101.30,1079.44 1102.30,1079.99 1103.30,1080.00 1104.30,1080.01 1105.30,1080.21 1106.30,1079.75 1107.30,1080.20 1108.30,1079.93 1109.30,1079.89 1110.00,1079.72 1110.20,1079.67 1110.40,1079.58 1110.60,1079.47 1110.80,1079.35 1111.00,1079.24 1111.20,1079.13 1111.40,1079.13 1111.60,1079.25 1111.80,1079.37 1112.00,1079.49 1112.20,1079.61 1112.40,1079.67 1112.60,1079.67 1112.80,1079.67 1113.00,1079.67 1113.20,1079.67 1113.40,1079.68 1113.60,1079.71 1113.80,1079.74 1114.00,1079.77 1114.20,1079.80 1114.40,1079.78 1114.60,1079.72 1114.80,1079.66 1115.00,1079.60 1115.20,1079.53 1115.40,1079.45 1115.60,1079.36 1115.80,1079.26 1116.00,1079.16 1116.20,1079.06 1116.40,1079.02 1116.60,1079.04 1116.80,1079.06 1117.00,1079.07 1117.20,1079.09 1117.40,1079.09 1117.60,1079.06 1117.80,1079.03 1118.00,1079.00 1118.20,1078.97 1118.40,1078.98 1118.60,1079.01 1118.80,1079.05 1119.00,1079.08 1119.20,1079.12 1119.40,1079.15 1119.60,1079.17 1119.80,1079.19 1120.00,1079.21 1120.20,1079.23 1120.40,1079.23 1120.60,1079.21 1120.80,1079.18 1121.00,1079.15 1121.20,1079.11 1121.40,1079.08 1121.60,1079.04 1121.80,1079.00 1122.00,1078.96 1122.20,1078.92 1122.40,1078.86 1122.60,1078.78 1122.80,1078.70 1123.00,1078.61 1123.20,1078.53 1123.40,1078.40 1123.60,1078.23 1123.80,1078.07 1124.00,1077.90 1124.20,1077.73 1124.40,1077.63 1124.60,1077.60 1124.80,1077.57 1125.00,1077.53 1125.20,1077.50 1125.40,1077.41 1125.60,1077.27 1125.80,1077.13 1126.00,1076.99 1126.20,1076.85 1126.40,1076.77 1126.60,1076.74 1126.80,1076.71 1127.00,1076.68 1127.20,1076.65 1127.40,1076.62 1127.60,1076.58 1127.80,1076.53 1128.00,1076.48 1128.20,1076.43 1128.40,1076.30 1128.60,1076.11 1128.80,1075.92 1129.00,1075.72 1129.20,1075.53 1129.40,1075.42 1129.60,1075.39 1129.80,1075.36 1130.00,1075.33 1130.20,1075.29 1130.40,1075.19 1130.60,1075.02 1130.80,1074.86 1131.00,1074.69 1131.20,1074.52 1131.40,1074.40 1131.60,1074.33 1131.80,1074.26 1132.00,1074.18 1132.20,1074.11 1132.40,1074.01 1132.60,1073.88 1132.80,1073.75 1133.00,1073.62 1133.20,1073.50 1133.40,1073.38 1133.60,1073.26 1133.80,1073.14 1134.00,1073.02 1134.20,1072.91 1134.40,1072.84 1134.60,1072.81 1134.80,1072.79 1135.00,1072.76 1135.20,1072.73 1135.40,1072.62 1135.60,1072.42 1135.80,1072.23 1136.00,1072.04 1136.20,1071.84 1136.40,1071.73 1136.60,1071.70 1136.80,1071.65 1137.00,1071.59 1137.20,1071.51 1137.40,1071.38 1137.60,1071.20 1137.80,1071.00 1138.00,1070.80 1138.20,1070.55 1138.40,1070.26 1138.60,1069.91 1138.80,1069.56 1139.00,1069.20 1139.20,1068.82 1139.40,1068.46 1139.60,1068.11 1139.80,1067.73 1140.00,1067.31 1140.20,1066.87 1140.40,1066.40 1140.60,1065.89 1140.80,1065.35 1141.00,1064.78 1141.20,1064.20 1141.40,1063.58 1141.60,1062.93 1141.80,1062.26 1142.00,1061.56 1142.10,1061.19 1142.20,1060.80 1142.40,1059.83 1142.60,1058.67 1142.80,1057.34 1143.00,1055.90 1143.20,1054.38 1143.40,1052.82 1143.60,1051.25 1143.80,1049.73 1143.90,1049.00 1144.00,1048.27 1144.20,1046.77 1144.40,1045.22 1144.60,1043.65 1144.80,1042.07 1145.00,1040.49 1145.20,1038.95 1145.40,1037.44 1145.50,1036.71 1145.60,1035.99 1145.80,1034.52 1146.00,1033.04 1146.20,1031.58 1146.40,1030.15 1146.60,1028.78 1146.80,1027.48 1147.00,1026.28 1147.20,1025.21 1147.40,1024.11 1147.60,1023.02 1147.80,1022.17 1148.00,1021.62 1148.20,1022.21 1148.40,1023.21 1148.60,1024.52 1148.70,1025.21 1148.80,1026.09 1149.00,1028.72 1149.20,1031.87 1149.40,1034.80 1149.60,1036.74 1149.80,1037.85 1150.00,1038.85 1150.20,1039.74 1150.40,1040.52 1150.60,1041.21 1150.80,1041.82 1151.00,1042.37 1151.20,1042.87 1151.40,1043.33 1151.60,1043.78 1151.80,1044.21 1152.00,1044.65 1152.20,1045.11 1152.40,1045.59 1152.60,1046.12 1152.80,1046.72 1153.00,1047.38 1153.20,1048.12 1153.40,1048.97 1153.60,1049.91 1153.80,1050.96 1154.00,1052.10 1154.20,1053.32 1154.40,1054.62 1154.60,1055.99 1154.80,1057.42 1155.00,1058.89 1155.20,1060.40 1155.30,1061.17 1155.40,1062.02 1155.60,1064.02 1155.80,1066.19 1156.00,1068.24 1156.20,1069.86 1156.30,1070.42 1156.40,1070.86 1156.60,1071.69 1156.80,1072.45 1157.00,1073.15 1157.20,1073.77 1157.40,1074.33 1157.60,1074.82 1157.80,1075.25 1158.00,1075.61 1158.20,1075.91 1158.40,1076.16 1158.50,1076.28 1158.60,1076.41 1158.80,1076.66 1159.00,1076.90 1159.20,1077.14 1159.40,1077.36 1159.60,1077.56 1159.80,1077.74 1160.00,1077.92 1160.20,1078.09 1160.40,1078.25 1160.60,1078.42 1160.80,1078.58 1161.00,1078.72 1161.20,1078.87 1161.40,1079.02 1161.60,1079.19 1161.80,1079.35 1162.00,1079.51 1162.20,1079.66 1162.40,1079.73 1162.60,1079.71 1162.80,1079.67 1163.00,1079.62 1163.20,1079.57 1163.40,1079.55 1163.60,1079.57 1163.80,1079.59 1164.00,1079.61 1164.20,1079.63 1164.40,1079.69 1164.60,1079.79 1164.80,1079.90 1165.00,1080.00 1165.20,1080.10 1165.40,1080.14 1165.60,1080.11 1165.80,1080.09 1166.00,1080.06 1166.20,1080.03 1166.40,1080.01 1166.60,1079.99 1166.80,1079.96 1167.00,1079.94 1167.20,1079.92 1167.40,1079.92 1167.60,1079.94 1167.80,1079.96 1168.00,1079.98 1168.20,1080.01 1168.40,1080.00 1168.60,1079.98 1168.80,1079.95 1169.00,1079.92 1169.20,1079.90 1169.40,1079.87 1169.60,1079.83 1169.80,1079.80 1170.00,1079.77 1170.20,1079.74 1170.40,1079.75 1170.60,1079.80 1170.80,1079.85 1171.00,1079.91 1171.30,1079.99 1172.30,1080.32 1173.30,1080.38 1174.30,1080.08 1175.30,1079.94 1176.30,1079.69 1177.30,1079.51 1178.30,1080.14 1179.30,1080.54 1180.30,1080.53 1181.30,1080.27 1182.30,1080.16 1183.30,1079.77 1184.30,1080.29 1185.30,1080.64 1186.30,1080.62 1187.30,1081.00 1188.30,1080.46 1189.30,1080.31 1190.30,1080.27 1191.30,1080.20 1192.30,1080.66 1193.30,1080.92 1194.30,1081.14 1195.30,1080.95 1196.30,1080.75 1197.30,1080.52 1198.30,1080.62 1199.30,1080.53 1200.30,1080.43 1201.30,1080.55 1202.30,1080.47 1203.30,1080.45 1204.30,1080.42 1205.30,1080.18 1206.30,1079.70 1207.30,1080.11 1208.30,1080.27 1209.30,1080.12 1210.30,1080.21 1211.30,1080.09 1212.30,1079.85 1213.30,1079.95 1214.30,1080.46 1215.30,1080.23 1216.30,1080.28 1217.30,1080.65 1218.30,1080.21 1219.30,1080.32 1220.30,1080.44 1221.30,1080.49 1222.30,1080.48 1223.30,1080.72 1224.30,1080.77 1225.30,1081.01 1226.30,1081.23 1227.30,1080.86 1228.30,1080.66 1229.30,1079.99 1230.30,1079.94 1231.30,1080.05 1232.30,1080.37 1233.30,1080.65 1234.30,1080.45 1235.30,1080.70 1236.30,1080.40 1237.30,1080.44 1238.30,1080.97 1239.30,1081.02 1240.30,1080.95 1241.30,1080.86 1242.30,1080.84 1243.30,1080.77 1244.30,1081.06 1245.30,1081.29 1246.30,1080.48 1247.30,1080.19 1248.30,1079.74 1249.30,1079.38 1250.30,1079.79 1251.30,1079.96 1252.30,1080.55 1253.30,1080.87 1254.30,1081.02 1255.30,1080.83 1256.30,1080.84 1257.30,1080.72 1258.30,1080.25 1259.30,1080.31 1260.30,1080.13 1261.30,1079.84 1262.30,1080.29 1263.30,1080.65 1264.30,1080.47 1265.30,1080.67 1266.30,1080.61 1267.30,1080.04 1268.30,1079.98 1269.30,1079.76 1270.30,1079.69 1271.30,1079.73 1272.30,1080.05 1273.30,1080.25 1274.30,1080.50 1275.30,1080.39 1276.30,1080.16 1277.30,1080.32 1278.30,1080.28 1279.30,1080.42 1280.30,1080.39 1281.30,1080.28 1282.30,1080.04 1283.30,1080.08 1284.30,1080.22 1285.30,1079.91 1286.30,1079.57 1287.30,1079.55 1288.30,1079.49 1289.30,1079.23 1290.30,1079.95 1291.30,1080.08 1292.30,1080.14 1293.30,1080.46 1294.30,1080.14 1295.30,1080.52 1296.30,1080.81 1297.30,1081.14 1298.30,1081.08 1299.30,1080.62 1300.30,1080.49 1301.30,1080.17 1302.30,1080.01 1303.30,1079.99 1304.30,1079.88 1305.30,1079.78 1306.30,1080.06 1307.30,1080.17 1308.30,1079.97 1309.30,1080.16 1310.30,1080.28 1311.30,1080.31 1312.30,1079.92 1313.30,1080.30 1314.30,1080.17 1315.30,1080.09 1316.30,1080.32 1317.30,1079.86 1318.30,1079.15 1319.30,1078.99 1320.30,1079.18 1321.30,1079.36 1322.30,1079.75 1323.30,1079.23 1324.30,1078.80 1325.30,1078.55 1326.30,1078.96 1327.30,1079.10 1328.30,1079.32 1329.30,1079.49 1330.30,1079.29 1331.30,1079.59 1332.30,1078.90 1333.30,1078.85 1334.30,1078.68 1335.30,1078.77 1336.30,1079.13 1337.30,1078.82 1338.00,1078.99 1338.20,1079.04 1338.40,1079.05 1338.60,1079.03 1338.80,1079.00 1339.00,1078.99 1339.20,1078.98 1339.40,1079.00 1339.60,1079.07 1339.80,1079.14 1340.00,1079.22 1340.20,1079.30 1340.40,1079.35 1340.60,1079.38 1340.80,1079.41 1341.00,1079.44 1341.20,1079.47 1341.40,1079.50 1341.60,1079.53 1341.80,1079.56 1342.00,1079.59 1342.20,1079.62 1342.40,1079.62 1342.60,1079.58 1342.80,1079.55 1343.00,1079.51 1343.20,1079.47 1343.40,1079.45 1343.60,1079.45 1343.80,1079.44 1344.00,1079.44 1344.20,1079.42 1344.40,1079.45 1344.60,1079.50 1344.80,1079.55 1345.00,1079.59 1345.20,1079.63 1345.40,1079.61 1345.60,1079.53 1345.80,1079.44 1346.00,1079.35 1346.20,1079.26 1346.40,1079.25 1346.60,1079.32 1346.80,1079.39 1347.00,1079.47 1347.20,1079.54 1347.40,1079.57 1347.60,1079.57 1347.80,1079.56 1348.00,1079.56 1348.20,1079.55 1348.40,1079.55 1348.60,1079.54 1348.80,1079.53 1349.00,1079.52 1349.20,1079.51 1349.40,1079.48 1349.60,1079.41 1349.80,1079.35 1350.00,1079.28 1350.20,1079.22 1350.40,1079.13 1350.60,1079.03 1350.80,1078.92 1351.00,1078.82 1351.20,1078.71 1351.40,1078.62 1351.60,1078.55 1351.80,1078.48 1352.00,1078.41 1352.20,1078.33 1352.40,1078.19 1352.60,1077.99 1352.80,1077.79 1353.00,1077.59 1353.20,1077.38 1353.40,1077.28 1353.60,1077.27 1353.70,1077.27 1353.80,1077.26 1354.00,1077.25 1354.20,1077.24 1354.40,1077.18 1354.60,1077.07 1354.80,1076.95 1355.00,1076.84 1355.20,1076.72 1355.40,1076.64 1355.60,1076.58 1355.80,1076.52 1356.00,1076.46 1356.20,1076.40 1356.40,1076.38 1356.60,1076.40 1356.80,1076.42 1357.00,1076.43 1357.20,1076.44 1357.40,1076.38 1357.60,1076.25 1357.80,1076.13 1358.00,1076.00 1358.20,1075.87 1358.40,1075.76 1358.60,1075.68 1358.80,1075.59 1359.00,1075.51 1359.20,1075.41 1359.40,1075.27 1359.60,1075.08 1359.80,1074.89 1360.00,1074.70 1360.20,1074.51 1360.40,1074.29 1360.60,1074.04 1360.80,1073.79 1361.00,1073.53 1361.20,1073.28 1361.40,1073.08 1361.60,1072.92 1361.80,1072.76 1362.00,1072.60 1362.20,1072.44 1362.40,1072.27 1362.60,1072.10 1362.80,1071.93 1363.00,1071.76 1363.20,1071.59 1363.40,1071.45 1363.60,1071.35 1363.80,1071.24 1364.00,1071.12 1364.20,1070.99 1364.40,1070.86 1364.60,1070.71 1364.80,1070.55 1365.00,1070.39 1365.20,1070.22 1365.40,1070.02 1365.60,1069.80 1365.80,1069.57 1366.00,1069.34 1366.20,1069.10 1366.40,1068.86 1366.60,1068.60 1366.80,1068.35 1367.00,1068.08 1367.20,1067.81 1367.40,1067.52 1367.60,1067.22 1367.80,1066.91 1368.00,1066.60 1368.20,1066.28 1368.40,1065.96 1368.60,1065.65 1368.80,1065.33 1369.00,1065.00 1369.20,1064.66 1369.40,1064.31 1369.60,1063.94 1369.80,1063.57 1370.00,1063.19 1370.10,1063.00 1370.20,1062.81 1370.40,1062.39 1370.60,1061.94 1370.80,1061.47 1371.00,1060.97 1371.20,1060.44 1371.40,1059.89 1371.60,1059.31 1371.80,1058.71 1372.00,1058.09 1372.20,1057.44 1372.40,1056.77 1372.60,1056.08 1372.80,1055.37 1373.00,1054.64 1373.20,1053.89 1373.40,1053.12 1373.60,1052.34 1373.80,1051.54 1374.00,1050.72 1374.20,1049.88 1374.40,1049.03 1374.60,1048.16 1374.70,1047.72 1374.80,1047.27 1375.00,1046.33 1375.20,1045.33 1375.40,1044.27 1375.60,1043.15 1375.80,1041.99 1376.00,1040.78 1376.20,1039.53 1376.40,1038.24 1376.60,1036.92 1376.80,1035.57 1377.00,1034.19 1377.20,1032.78 1377.40,1031.36 1377.60,1029.92 1377.80,1028.46 1378.00,1027.00 1378.20,1025.53 1378.30,1024.79 1378.40,1024.06 1378.60,1022.59 1378.80,1021.10 1379.00,1019.60 1379.20,1018.08 1379.40,1016.51 1379.60,1014.91 1379.80,1013.25 1380.00,1011.52 1380.20,1009.73 1380.40,1007.86 1380.60,1005.90 1380.80,1003.84 1381.00,1001.68 1381.20,999.59 1381.40,997.69 1381.60,995.85 1381.80,993.94 1382.00,991.84 1382.20,989.41 1382.40,986.54 1382.60,983.10 1382.80,978.95 1383.00,973.98 1383.20,968.07 1383.40,947.82 1383.60,918.90 1383.70,910.08 1383.80,905.03 1384.00,895.68 1384.20,887.46 1384.40,880.54 1384.60,875.10 1384.80,871.31 1385.00,869.30 1385.10,868.33 1385.20,869.37 1385.40,871.77 1385.60,876.08 1385.80,881.84 1386.00,888.59 1386.20,895.86 1386.40,903.18 1386.60,910.08 1386.80,917.96 1387.00,927.13 1387.20,935.56 1387.40,941.17 1387.60,944.50 1387.80,947.46 1388.00,950.09 1388.20,952.42 1388.40,954.50 1388.60,956.37 1388.80,958.06 1389.00,959.61 1389.20,961.06 1389.40,962.45 1389.60,963.82 1389.80,965.20 1390.00,966.64 1390.20,968.17 1390.40,969.83 1390.60,971.65 1390.80,973.68 1390.90,974.79 1391.00,975.93 1391.20,978.22 1391.40,980.55 1391.60,982.95 1391.80,985.43 1392.00,988.02 1392.20,990.75 1392.40,993.63 1392.60,996.69 1392.80,999.96 1392.90,1001.68 1393.00,1003.55 1393.20,1007.91 1393.40,1012.84 1393.60,1018.05 1393.80,1023.26 1394.00,1028.15 1394.20,1032.44 1394.40,1036.37 1394.60,1040.30 1394.80,1044.10 1395.00,1047.65 1395.20,1050.81 1395.40,1053.46 1395.60,1055.47 1395.80,1057.05 1396.00,1058.53 1396.20,1059.90 1396.40,1061.17 1396.60,1062.36 1396.80,1063.45 1397.00,1064.45 1397.20,1065.38 1397.40,1066.22 1397.60,1066.99 1397.80,1067.70 1398.00,1068.34 1398.20,1068.92 1398.30,1069.19 1398.40,1069.46 1398.60,1069.97 1398.80,1070.47 1399.00,1070.95 1399.20,1071.42 1399.40,1071.88 1399.60,1072.34 1399.80,1072.79 1400.00,1073.23 1400.20,1073.65 1400.40,1074.05 1400.60,1074.42 1400.80,1074.77 1401.00,1075.12 1401.20,1075.44 1401.40,1075.75 1401.60,1076.02 1401.80,1076.28 1402.00,1076.52 1402.20,1076.75 1402.40,1076.96 1402.60,1077.18 1402.80,1077.37 1402.90,1077.46 1403.00,1077.53 1403.20,1077.66 1403.40,1077.74 1403.60,1077.78 1403.80,1077.81 1404.00,1077.83 1404.20,1077.85 1404.40,1077.87 1404.60,1077.90 1404.80,1077.93 1405.00,1077.95 1405.20,1077.97 1405.40,1078.03 1405.60,1078.15 1405.80,1078.27 1406.00,1078.39 1406.20,1078.50 1406.40,1078.55 1406.60,1078.53 1406.80,1078.51 1407.00,1078.48 1407.20,1078.45 1407.40,1078.47 1407.60,1078.56 1407.80,1078.65 1408.00,1078.73 1408.20,1078.81 1408.40,1078.87 1408.60,1078.91 1408.80,1078.95 1409.00,1078.99 1409.20,1079.03 1409.40,1079.10 1409.60,1079.21 1409.80,1079.31 1410.00,1079.41 1410.20,1079.52 1410.40,1079.62 1410.60,1079.73 1410.80,1079.83 1411.00,1079.94 1411.20,1080.04 1411.40,1080.05 1411.60,1079.96 1411.80,1079.86 1412.00,1079.77 1412.20,1079.67 1412.40,1079.63 1412.60,1079.65 1412.80,1079.67 1413.00,1079.69 1413.20,1079.71 1413.40,1079.69 1413.60,1079.62 1413.80,1079.55 1414.00,1079.49 1414.20,1079.42 1414.40,1079.37 1414.60,1079.35 1414.80,1079.32 1415.00,1079.29 1415.20,1079.25 1415.40,1079.28 1415.60,1079.38 1415.80,1079.47 1416.00,1079.56 1416.20,1079.65 1416.40,1079.71 1416.60,1079.76 1416.80,1079.81 1417.00,1079.85 1417.20,1079.89 1417.40,1079.93 1417.60,1079.95 1417.80,1079.98 1418.00,1080.00 1418.20,1080.02 1418.40,1080.01 1418.60,1079.97 1418.80,1079.94 1419.00,1079.90 1419.20,1079.86 1419.40,1079.86 1419.60,1079.89 1419.80,1079.92 1420.00,1079.96 1420.20,1080.00 1420.40,1080.03 1420.60,1080.05 1420.80,1080.07 1421.00,1080.10 1421.20,1080.13 1421.40,1080.14 1421.60,1080.15 1421.80,1080.17 1422.00,1080.18 1422.30,1080.21 1423.30,1080.77 1424.30,1080.81 1425.30,1080.51 1426.30,1080.45 1427.30,1080.21 1428.30,1080.26 1429.30,1080.46 1430.30,1080.80 1431.30,1081.09 1432.30,1080.76 1433.30,1080.47 1434.30,1080.25 1435.30,1080.10 1436.30,1080.56 1437.30,1081.00 1438.30,1081.18 1439.30,1080.88 1440.30,1080.77 1441.30,1080.49 1442.30,1080.45 1443.30,1080.89 1444.30,1080.66 1445.30,1080.76 1446.30,1081.24 1447.30,1080.87 1448.30,1080.92 1449.30,1080.73 1450.30,1079.85 1451.30,1080.26 1452.30,1080.23 1453.30,1080.34 1454.30,1080.49 1455.30,1079.63 1456.30,1079.96 1457.30,1079.98 1458.30,1080.16 1459.30,1081.12 1460.30,1080.92 1461.30,1081.08 1462.30,1081.14 1463.30,1081.12 1464.30,1080.84 1465.30,1080.69 1466.30,1080.15 1467.30,1079.86 1468.30,1080.32 1469.30,1080.35 1470.30,1081.31 1471.30,1081.53 1472.30,1081.82 1473.30,1081.96 1474.30,1081.91 1475.30,1081.55 1476.30,1081.18 1477.30,1081.14 1478.30,1080.58 1478.80,1080.80 1479.05,1080.90 1479.30,1081.01 1479.55,1081.03 1479.80,1081.06 1480.05,1081.08 1480.30,1081.10 1480.55,1081.01 1480.80,1080.92 1481.05,1080.83 1481.30,1080.73 1481.55,1080.74 1481.80,1080.74 1482.05,1080.74 1482.30,1080.73 1482.55,1080.56 1482.80,1080.38 1483.05,1080.20 1483.30,1080.01 1483.55,1079.83 1483.80,1079.65 1484.05,1079.46 1484.30,1079.26 1484.55,1079.20 1484.80,1079.13 1485.05,1079.05 1485.30,1078.97 1485.55,1078.73 1485.80,1078.50 1486.05,1078.26 1486.30,1078.01 1486.55,1077.83 1486.80,1077.66 1487.05,1077.48 1487.30,1077.30 1487.55,1077.13 1487.80,1076.96 1488.05,1076.79 1488.30,1076.64 1488.55,1076.41 1488.80,1076.19 1489.05,1075.99 1489.30,1075.79 1489.55,1075.69 1489.80,1075.60 1490.05,1075.53 1490.30,1075.47 1490.55,1075.48 1490.80,1075.51 1491.05,1075.56 1491.30,1075.63 1491.55,1075.67 1491.80,1075.73 1492.05,1075.81 1492.30,1075.90 1492.55,1076.19 1492.80,1076.50 1493.05,1076.82 1493.30,1077.15 1493.55,1077.47 1493.80,1077.80 1494.05,1078.13 1494.30,1078.47 1494.55,1078.56 1494.80,1078.65 1495.05,1078.75 1495.30,1078.84 1495.55,1079.03 1495.80,1079.23 1496.05,1079.41 1496.30,1079.59 1496.55,1079.50 1496.80,1079.40 1497.05,1079.30 1497.30,1079.19 1497.55,1079.16 1497.80,1079.12 1498.05,1079.08 1498.30,1079.03 1498.55,1079.12 1498.80,1079.20 1499.05,1079.28 1499.30,1079.35 1499.55,1079.37 1499.80,1079.37 1500.05,1079.37 1500.30,1079.37 1500.55,1079.41 1500.80,1079.45 1501.05,1079.49 1501.30,1079.52 1501.55,1079.61 1501.80,1079.69 1502.05,1079.78 1502.30,1079.85 1502.55,1079.94 1502.80,1080.02 1503.30,1080.17 1504.30,1080.22 1505.30,1080.73 1506.30,1080.90 1507.30,1081.26 1508.30,1081.16 1509.30,1081.55 1510.30,1080.96 1511.30,1080.41 1512.30,1080.63 1513.30,1080.63 1514.30,1081.17 1515.30,1081.50 1516.30,1081.96 1517.30,1081.66 1518.30,1081.42 1519.30,1081.63 1520.30,1081.22 1521.30,1080.88 1522.30,1080.59 1523.30,1080.29 1524.30,1080.78 1525.30,1081.24 1526.30,1081.65 1527.30,1081.89 1528.30,1081.12 1529.30,1081.05 1530.30,1080.91 1531.30,1080.95 1532.30,1081.09 1533.30,1081.17 1534.30,1081.34 1535.30,1081.01 1536.30,1081.35 1537.30,1081.12 1538.30,1081.38 1539.30,1081.30 1540.00,1080.80 1540.25,1080.62 1540.30,1080.58 1540.50,1080.64 1540.75,1080.71 1541.00,1080.78 1541.25,1080.85 1541.30,1080.86 1541.50,1080.83 1541.75,1080.80 1542.00,1080.76 1542.25,1080.71 1542.30,1080.70 1542.50,1080.71 1542.75,1080.70 1543.00,1080.69 1543.25,1080.68 1543.30,1080.68 1543.50,1080.80 1543.75,1080.94 1544.00,1081.07 1544.25,1081.21 1544.30,1081.23 1544.50,1081.13 1544.75,1081.01 1545.00,1080.87 1545.25,1080.73 1545.30,1080.70 1545.50,1080.52 1545.75,1080.29 1546.00,1080.06 1546.25,1079.81 1546.30,1079.76 1546.50,1079.55 1546.75,1079.27 1547.00,1079.00 1547.25,1078.72 1547.30,1078.66 1547.50,1078.44 1547.75,1078.16 1548.00,1077.88 1548.25,1077.59 1548.30,1077.54 1548.50,1077.38 1548.75,1077.18 1549.00,1076.99 1549.25,1076.80 1549.30,1076.76 1549.50,1076.72 1549.75,1076.68 1550.00,1076.64 1550.25,1076.61 1550.30,1076.61 1550.50,1076.56 1550.75,1076.51 1551.00,1076.48 1551.25,1076.46 1551.30,1076.46 1551.50,1076.44 1551.75,1076.42 1552.00,1076.42 1552.25,1076.43 1552.30,1076.44 1552.50,1076.54 1552.75,1076.69 1553.00,1076.85 1553.25,1077.02 1553.30,1077.06 1553.50,1077.07 1553.75,1077.09 1554.00,1077.13 1554.25,1077.17 1554.30,1077.18 1554.50,1077.31 1554.75,1077.48 1555.00,1077.66 1555.25,1077.83 1555.30,1077.87 1555.50,1077.98 1555.75,1078.12 1556.00,1078.26 1556.25,1078.40 1556.30,1078.43 1556.50,1078.54 1556.75,1078.69 1557.00,1078.83 1557.25,1078.97 1557.30,1078.99 1557.50,1079.16 1557.75,1079.37 1558.00,1079.57 1558.25,1079.77 1558.30,1079.81 1558.50,1079.97 1558.75,1080.17 1559.00,1080.36 1559.25,1080.54 1559.30,1080.58 1559.50,1080.76 1559.75,1080.99 1560.00,1081.22 1560.25,1081.43 1560.30,1081.48 1560.50,1081.50 1560.75,1081.52 1561.00,1081.53 1561.25,1081.54 1561.30,1081.54 1561.50,1081.61 1561.75,1081.68 1562.00,1081.75 1562.25,1081.81 1562.30,1081.82 1562.50,1081.82 1562.75,1081.82 1563.00,1081.82 1563.25,1081.81 1563.30,1081.81 1563.50,1081.78 1563.75,1081.76 1564.00,1081.73 1564.30,1081.69 1565.30,1081.66 1566.30,1081.54 1567.30,1081.20 1568.30,1080.96 1569.30,1080.73 1570.30,1080.41 1571.30,1080.65 1572.30,1081.08 1573.30,1081.34 1574.30,1081.44 1575.30,1081.42 1576.30,1081.19 1577.30,1080.52 1578.30,1080.37 1579.30,1080.40 1580.30,1080.19 1581.30,1080.35 1582.30,1080.07 1583.30,1078.97 1584.30,1078.16 1585.30,1077.80 1586.00,1077.74 1586.30,1077.74 1587.30,1078.35 1588.30,1078.20 1589.30,1078.37 1590.30,1078.67 1591.30,1078.73 1592.30,1079.52 1593.30,1080.05 1594.30,1080.30 1595.30,1080.72 1596.30,1081.10 1597.30,1081.37 1598.30,1081.32 1599.30,1081.11 1600.30,1080.83 1601.30,1080.49 1602.30,1080.57 1603.30,1080.49 1604.30,1080.49 1605.30,1080.56 1606.30,1080.89 1607.30,1081.36 1608.30,1081.51 1609.30,1081.78 1610.30,1081.51 1611.30,1081.45 1612.30,1081.74 1613.30,1081.62 1614.30,1081.62 1615.30,1081.74 1616.30,1081.37 1617.30,1081.31 1618.30,1080.80 1619.30,1080.55 1620.30,1081.03 1621.30,1080.94 1622.30,1081.42 1623.30,1081.43 1624.30,1080.84 1625.30,1081.04 1626.30,1081.04 1627.30,1081.39 1628.30,1081.42 1629.30,1081.32 1630.30,1081.25 1631.30,1080.87 1632.30,1081.32 1633.30,1081.15 1634.30,1081.07 1635.30,1081.78 1636.30,1081.52 1637.30,1081.64 1638.30,1081.92 1639.30,1081.11 1640.30,1081.21 1641.30,1080.99 1642.30,1080.78 1643.30,1080.88 1644.30,1081.11 1645.30,1081.53 1646.30,1082.06 1647.30,1082.57 1648.30,1082.11 1649.30,1082.09 1650.30,1081.57 1651.30,1081.05 1652.30,1081.48 1653.30,1081.69 1654.30,1081.82 1655.30,1082.04 1656.30,1081.84 1657.30,1081.58 1658.30,1081.64 1659.30,1081.33 1660.30,1081.41 1661.30,1081.18 1662.30,1080.83 1663.30,1081.03 1664.30,1080.95 1665.30,1081.30 1666.30,1081.66 1667.30,1081.76 1668.30,1081.55 1669.30,1081.45 1670.30,1081.41 1671.30,1081.41 1672.30,1081.40 1673.30,1081.69 1674.30,1081.82 1675.30,1081.91 1676.30,1082.10 1677.30,1081.65 1678.30,1081.69 1679.30,1081.24 1680.30,1081.11 1681.30,1081.11 1682.30,1081.03 1683.30,1081.26 1684.30,1081.69 1685.30,1081.35 1686.30,1081.58 1687.30,1081.73 1688.30,1081.62 1689.30,1081.90 1690.30,1081.78 1691.30,1081.64 1692.30,1081.48 1693.30,1081.26 1694.30,1081.15 1695.30,1081.25 1696.30,1080.77 1697.30,1081.08 1698.30,1080.88 1699.30,1081.04 1700.30,1081.32 1701.30,1081.39 1702.30,1081.75 1703.30,1081.37 1704.30,1081.95 1705.30,1081.96 1706.30,1081.62 1707.30,1081.51 1708.30,1080.67 1709.30,1080.84 1710.30,1080.78 1711.30,1080.95 1712.30,1081.60 1713.30,1081.54 1714.30,1081.67 1715.30,1081.48 1716.30,1080.79 1717.30,1080.85 1718.30,1080.81 1719.30,1081.08 1720.30,1081.97 1721.30,1081.66 1722.30,1081.75 1723.30,1082.30 1724.30,1082.00 1725.30,1081.97 1726.30,1081.70 1727.30,1081.48 1728.30,1081.06 1729.30,1081.37 1730.30,1081.93 1731.30,1081.63 1732.30,1082.10 1733.30,1081.93 1734.30,1081.88 1735.30,1081.96 1736.30,1081.61 1737.30,1081.68 1738.30,1081.38 1739.30,1081.17 1740.30,1081.28 1741.30,1080.91 1742.30,1080.68 1743.30,1080.96 1744.30,1080.59 1745.30,1080.92 1746.30,1081.11 1747.30,1080.82 1748.30,1081.55 1749.30,1081.63 1750.30,1081.48 1751.30,1081.65 1752.30,1081.53 1753.30,1080.99 1754.30,1081.16 1755.30,1081.04 1756.30,1080.90 1757.30,1081.72 1758.30,1081.50 1759.30,1081.45 1760.00,1081.17 1760.20,1081.10 1760.40,1081.01 1760.60,1080.92 1760.80,1080.82 1761.00,1080.73 1761.20,1080.63 1761.40,1080.61 1761.60,1080.65 1761.80,1080.70 1762.00,1080.74 1762.20,1080.78 1762.40,1080.74 1762.60,1080.62 1762.80,1080.50 1763.00,1080.37 1763.20,1080.24 1763.40,1080.22 1763.60,1080.30 1763.80,1080.38 1764.00,1080.46 1764.20,1080.53 1764.40,1080.57 1764.60,1080.58 1764.80,1080.59 1765.00,1080.59 1765.20,1080.59 1765.40,1080.49 1765.60,1080.28 1765.80,1080.07 1766.00,1079.86 1766.20,1079.66 1766.40,1079.54 1766.60,1079.52 1766.80,1079.49 1767.00,1079.47 1767.20,1079.45 1767.40,1079.39 1767.60,1079.28 1767.80,1079.19 1768.00,1079.09 1768.20,1079.00 1768.40,1078.89 1768.60,1078.78 1768.80,1078.66 1769.00,1078.55 1769.20,1078.43 1769.40,1078.43 1769.60,1078.54 1769.80,1078.66 1770.00,1078.77 1770.20,1078.88 1770.40,1078.94 1770.50,1078.94 1770.60,1078.93 1770.80,1078.93 1771.00,1078.93 1771.20,1078.93 1771.40,1078.93 1771.60,1078.91 1771.80,1078.89 1772.00,1078.87 1772.20,1078.86 1772.40,1078.79 1772.60,1078.67 1772.80,1078.56 1773.00,1078.44 1773.20,1078.32 1773.40,1078.22 1773.60,1078.13 1773.80,1078.04 1774.00,1077.96 1774.20,1077.87 1774.40,1077.79 1774.60,1077.72 1774.80,1077.66 1775.00,1077.59 1775.20,1077.52 1775.40,1077.42 1775.60,1077.28 1775.80,1077.14 1776.00,1077.01 1776.20,1076.87 1776.40,1076.75 1776.60,1076.67 1776.80,1076.58 1777.00,1076.49 1777.20,1076.40 1777.40,1076.31 1777.60,1076.20 1777.80,1076.09 1778.00,1075.97 1778.20,1075.86 1778.40,1075.80 1778.60,1075.78 1778.80,1075.76 1779.00,1075.74 1779.20,1075.72 1779.40,1075.65 1779.60,1075.55 1779.80,1075.44 1780.00,1075.32 1780.20,1075.20 1780.40,1075.11 1780.60,1075.03 1780.80,1074.95 1781.00,1074.85 1781.20,1074.75 1781.40,1074.63 1781.60,1074.48 1781.80,1074.33 1782.00,1074.17 1782.20,1073.99 1782.40,1073.78 1782.60,1073.53 1782.80,1073.27 1783.00,1073.01 1783.20,1072.75 1783.40,1072.53 1783.60,1072.32 1783.80,1072.03 1784.00,1071.64 1784.10,1071.41 1784.20,1071.03 1784.40,1069.65 1784.60,1067.97 1784.80,1066.55 1785.00,1065.50 1785.20,1064.53 1785.40,1063.63 1785.60,1062.78 1785.80,1061.97 1786.00,1061.19 1786.20,1060.41 1786.40,1059.63 1786.50,1059.24 1786.60,1058.84 1786.80,1058.02 1787.00,1057.20 1787.20,1056.39 1787.40,1055.61 1787.60,1054.86 1787.80,1054.16 1788.00,1053.51 1788.20,1052.94 1788.40,1052.37 1788.60,1051.79 1788.80,1051.34 1789.00,1051.13 1789.20,1051.47 1789.40,1052.23 1789.60,1053.24 1789.70,1053.78 1789.80,1054.53 1790.00,1056.75 1790.20,1058.76 1790.30,1059.24 1790.40,1059.46 1790.60,1059.88 1790.80,1060.27 1791.00,1060.63 1791.20,1060.96 1791.40,1061.24 1791.60,1061.45 1791.80,1061.63 1792.00,1061.77 1792.20,1061.88 1792.40,1061.97 1792.60,1062.05 1792.80,1062.11 1793.00,1062.16 1793.20,1062.20 1793.40,1062.28 1793.60,1062.39 1793.80,1062.50 1794.00,1062.62 1794.20,1062.76 1794.40,1062.91 1794.60,1063.09 1794.80,1063.28 1795.00,1063.49 1795.20,1063.72 1795.40,1063.99 1795.50,1064.13 1795.60,1064.27 1795.80,1064.55 1796.00,1064.85 1796.20,1065.15 1796.40,1065.48 1796.60,1065.84 1796.80,1066.23 1797.00,1066.64 1797.20,1067.11 1797.40,1067.71 1797.60,1068.40 1797.80,1069.13 1798.00,1069.87 1798.20,1070.58 1798.40,1071.22 1798.50,1071.50 1798.60,1071.77 1798.80,1072.28 1799.00,1072.80 1799.20,1073.32 1799.40,1073.82 1799.60,1074.31 1799.80,1074.78 1800.00,1075.25 1800.20,1075.70 1800.40,1076.14 1800.60,1076.56 1800.80,1076.95 1801.00,1077.32 1801.20,1077.67 1801.40,1078.00 1801.60,1078.30 1801.80,1078.57 1802.00,1078.82 1802.20,1079.03 1802.30,1079.12 1802.40,1079.18 1802.60,1079.29 1802.80,1079.39 1803.00,1079.49 1803.20,1079.58 1803.40,1079.68 1803.60,1079.77 1803.80,1079.85 1804.00,1079.93 1804.20,1080.01 1804.40,1080.10 1804.60,1080.20 1804.80,1080.30 1805.00,1080.40 1805.20,1080.49 1805.40,1080.57 1805.60,1080.64 1805.80,1080.70 1806.00,1080.76 1806.20,1080.81 1806.40,1080.86 1806.60,1080.89 1806.80,1080.92 1807.00,1080.95 1807.20,1080.97 1807.40,1080.99 1807.60,1081.03 1807.80,1081.07 1808.00,1081.10 1808.20,1081.13 1808.40,1081.14 1808.60,1081.12 1808.80,1081.11 1809.00,1081.10 1809.20,1081.08 1809.40,1081.11 1809.60,1081.18 1809.80,1081.25 1810.00,1081.32 1810.20,1081.38 1810.40,1081.42 1810.60,1081.42 1810.80,1081.43 1811.00,1081.43 1811.20,1081.44 1811.40,1081.44 1811.60,1081.43 1811.80,1081.43 1812.00,1081.43 1812.20,1081.42 1812.40,1081.43 1812.60,1081.46 1812.80,1081.48 1813.00,1081.51 1813.20,1081.53 1813.40,1081.56 1813.60,1081.57 1813.80,1081.59 1814.00,1081.61 1814.30,1081.64 1815.30,1081.45 1816.30,1081.76 1817.30,1081.44 1818.30,1081.34 1819.30,1081.52 1820.30,1081.34 1821.30,1081.69 1822.30,1081.27 1823.30,1081.59 1824.30,1081.22 1825.30,1081.34 1826.30,1081.89 1827.30,1081.27 1828.30,1081.77 1829.30,1081.42 1830.30,1081.03 1831.30,1081.66 1832.30,1081.84 1833.30,1082.01 1834.30,1082.67 1835.30,1082.44 1836.30,1082.13 1837.30,1082.35 1838.30,1081.80 1839.30,1081.96 1840.30,1082.29 1841.30,1082.04 1842.30,1082.24 1843.30,1082.18 1844.30,1081.98 1845.30,1081.78 1846.30,1080.94 1847.30,1080.71 1848.30,1080.32 1849.30,1080.71 1850.30,1081.43 1851.30,1081.61 1852.30,1082.12 1853.30,1082.14 1854.30,1082.03 1855.30,1082.48 1856.30,1082.52 1857.30,1082.44 1858.30,1082.44 1859.30,1082.42 1860.30,1082.36 1861.30,1082.47 1862.30,1082.62 1863.30,1082.59 1864.30,1082.78 1865.30,1082.50 1866.30,1083.03 1867.30,1082.36 1868.30,1082.22 1869.30,1082.39 1870.30,1082.09 1871.30,1082.17 1872.30,1081.89 1873.30,1081.96 1874.30,1082.04 1875.30,1082.19 1876.30,1082.21 1877.30,1081.87 1878.30,1081.93 1879.30,1081.90 1880.30,1081.83 1881.30,1081.51 1882.30,1080.79 1883.30,1080.56 1884.30,1080.21 1885.30,1080.55 1886.30,1080.89 1887.30,1080.91 1888.30,1081.28 1889.30,1081.35 1890.30,1081.01 1891.30,1081.40 1892.30,1080.86 1893.30,1081.33 1894.30,1081.40 1895.30,1081.25 1896.30,1081.80 1897.30,1081.44 1898.30,1081.61 1899.30,1081.73 1900.30,1081.45 1901.30,1081.54 1902.30,1081.65 1903.30,1081.61 1904.30,1082.21 1905.30,1081.76 1906.30,1081.70 1907.30,1081.44 1908.30,1081.18 1909.30,1081.49 1910.30,1081.80 1911.30,1082.03 1912.30,1082.01 1913.30,1082.10 1914.30,1082.18 1915.30,1082.35 1916.30,1082.87 1917.30,1082.60 1918.30,1082.42 1919.30,1081.89 1920.30,1081.25 1921.30,1081.54 1922.30,1081.78 1923.30,1081.98 1924.30,1082.25 1925.30,1082.13 1926.30,1081.96 1927.30,1082.12 1928.30,1081.91 1929.30,1081.38 1930.30,1080.92 1931.30,1080.96 1932.30,1081.05 1933.30,1082.04 1934.30,1082.40 1935.30,1082.53 1936.30,1082.28 1937.30,1081.48 1938.30,1081.52 1939.30,1081.69 1940.30,1082.06 1941.30,1082.31 1942.30,1082.36 1943.30,1082.12 1944.30,1082.13 1945.30,1082.21 1946.30,1081.88 1947.30,1081.47 1948.30,1081.25 1949.30,1081.22 1950.30,1081.16 1951.30,1081.79 1952.30,1082.05 1953.30,1081.96 1954.30,1082.44 1955.30,1082.63 1956.30,1082.55 1957.30,1082.73 1958.30,1082.79 1959.30,1081.92 1960.30,1081.74 1961.30,1081.52 1962.30,1081.46 1963.30,1081.39 1964.30,1081.59 1965.30,1081.66 1966.30,1081.42 1967.30,1081.68 1968.30,1081.94 1969.30,1081.86 1970.30,1081.65 1971.30,1081.85 1972.30,1081.38 1973.30,1081.89 1974.30,1081.89 1975.30,1081.89 1975.90,1081.89" fill="none" stroke="#000" stroke-width="8.3" stroke-linejoin="round" stroke-linecap="butt"/>
</g>
<g transform="scale(1,1.25)">
<polyline id="c2" points="140.30,774.64 141.30,774.64 142.30,774.64 143.30,775.33 144.30,774.91 145.30,774.73 146.30,774.32 147.30,774.34 148.30,774.60 149.30,774.40 150.30,774.41 151.30,774.25 152.30,774.23 153.30,774.80 154.30,775.23 155.30,775.33 156.30,774.84 157.30,774.67 158.30,774.78 159.30,774.76 160.30,774.68 161.30,775.06 162.30,774.86 163.30,774.99 164.30,775.76 165.30,775.28 166.30,775.00 167.30,774.20 168.30,773.75 169.30,774.03 170.30,774.18 171.30,774.79 172.30,774.98 173.30,774.93 174.30,775.03 175.30,775.01 176.30,774.76 177.30,774.91 178.30,774.78 179.30,774.69 180.30,774.56 181.30,774.27 182.30,774.34 183.30,774.56 184.30,774.72 185.30,774.66 186.30,774.21 187.30,774.23 188.30,773.95 189.30,773.99 190.30,774.67 191.30,774.58 192.30,774.62 193.30,774.82 194.30,774.46 195.30,774.27 196.30,774.77 197.30,774.76 198.30,775.60 199.30,775.44 200.30,775.14 201.30,775.07 202.30,774.61 203.30,774.81 204.30,775.19 205.30,775.11 206.30,774.61 207.30,774.63 208.30,774.23 209.30,774.16 210.30,774.18 211.30,774.17 212.30,774.41 213.30,774.65 214.30,775.26 215.30,775.10 216.30,774.59 217.30,774.89 218.30,774.51 219.30,774.80 220.30,774.84 221.30,774.41 222.30,774.33 223.30,774.22 224.30,774.71 225.30,774.41 226.30,774.42 227.30,773.97 228.30,773.78 229.30,773.69 230.30,774.08 231.30,774.16 232.30,774.44 233.30,774.49 234.30,773.64 235.30,774.01 236.30,773.65 237.30,773.60 238.30,773.67 239.30,773.02 240.30,772.86 241.30,773.16 242.30,772.96 243.30,773.56 244.30,774.01 245.30,773.48 246.30,774.09 247.30,774.17 248.30,773.61 249.30,774.09 250.30,773.66 251.30,773.61 252.30,774.13 253.30,773.94 254.30,774.03 255.30,773.39 256.30,773.42 257.30,773.92 258.30,773.91 259.30,774.38 260.30,773.86 261.30,773.68 262.30,773.37 263.30,773.45 264.30,772.86 265.30,772.62 266.30,772.74 267.30,772.81 268.30,773.41 269.30,773.00 270.30,772.89 271.30,772.15 272.30,772.28 273.30,772.53 274.30,772.38 275.30,772.14 276.30,771.60 277.30,771.07 278.30,770.77 279.30,770.74 280.30,770.32 281.30,769.74 282.30,769.30 282.80,768.85 283.05,768.61 283.30,768.34 283.55,768.04 283.80,767.71 284.05,767.35 284.30,766.97 284.55,766.55 284.80,766.09 285.05,765.59 285.30,765.04 285.55,764.48 285.80,763.87 286.05,763.19 286.30,762.45 286.55,761.63 286.80,760.73 287.05,759.74 287.30,758.66 287.55,757.42 287.80,756.08 288.05,754.62 288.30,753.04 288.55,751.42 288.80,749.65 289.05,747.76 289.30,745.72 289.55,743.43 289.80,741.00 290.05,738.43 290.30,735.73 290.55,732.93 290.80,730.01 291.05,726.99 291.30,723.86 291.55,720.74 291.80,717.57 292.05,714.37 292.30,711.19 292.55,708.06 292.80,705.03 293.05,702.16 293.30,699.51 293.55,697.00 293.80,694.83 294.05,693.05 294.30,691.71 294.55,690.95 294.80,690.69 295.05,690.96 295.30,691.77 295.55,693.07 295.80,694.83 296.05,697.02 296.30,699.56 296.55,702.29 296.80,705.25 297.05,708.38 297.30,711.62 297.55,715.16 297.80,718.72 298.05,722.26 298.30,725.73 298.55,728.99 298.80,732.15 299.05,735.18 299.30,738.08 299.55,740.79 299.80,743.34 300.05,745.73 300.30,747.97 300.55,750.04 300.80,751.95 301.05,753.70 301.30,755.31 301.55,756.70 301.80,757.95 302.05,759.08 302.30,760.09 302.55,761.12 302.80,762.05 303.05,762.89 303.30,763.65 303.55,764.45 303.80,765.18 304.05,765.85 304.30,766.47 304.55,766.98 304.80,767.44 305.05,767.87 305.30,768.26 305.55,768.50 305.80,768.72 306.05,768.91 306.30,769.09 306.55,769.35 306.80,769.61 307.30,770.07 308.30,770.20 309.30,771.00 310.30,771.70 311.30,771.88 312.30,772.15 313.30,771.76 314.30,771.99 315.30,771.94 316.30,771.76 317.30,772.46 318.30,772.54 319.30,772.80 320.30,773.02 321.30,772.94 322.30,773.23 323.30,772.59 324.30,772.62 325.30,772.67 326.30,772.47 327.30,773.33 328.30,773.72 329.30,773.37 330.30,773.50 331.30,773.28 332.30,772.80 333.30,773.40 334.30,773.55 335.30,773.43 336.30,773.40 337.30,772.77 338.30,772.38 339.30,772.54 340.30,772.50 341.30,772.91 342.30,773.64 343.30,773.10 344.30,773.13 345.30,773.16 346.30,772.63 347.30,772.71 348.30,772.82 349.30,772.50 350.30,772.57 351.30,772.53 352.30,772.44 353.30,772.37 354.30,772.22 355.30,772.33 356.30,771.98 357.30,771.63 358.30,771.78 359.30,771.65 360.30,771.97 361.30,772.23 362.30,771.94 363.30,772.31 364.30,772.20 365.30,772.29 366.00,772.24 366.20,772.24 366.40,772.21 366.60,772.16 366.80,772.12 367.00,772.10 367.20,772.08 367.40,772.06 367.60,772.06 367.80,772.05 368.00,772.06 368.20,772.07 368.40,772.08 368.60,772.09 368.80,772.10 369.00,772.11 369.20,772.13 369.40,772.18 369.60,772.28 369.80,772.37 370.00,772.46 370.20,772.55 370.40,772.61 370.60,772.64 370.80,772.67 371.00,772.70 371.20,772.72 371.40,772.76 371.60,772.83 371.80,772.89 372.00,772.94 372.20,772.99 372.40,773.02 372.60,773.02 372.80,773.02 373.00,773.01 373.20,772.98 373.40,772.90 373.60,772.76 373.80,772.61 374.00,772.45 374.20,772.29 374.40,772.16 374.60,772.06 374.80,771.96 375.00,771.86 375.20,771.76 375.40,771.68 375.60,771.62 375.80,771.56 376.00,771.49 376.20,771.42 376.40,771.33 376.60,771.21 376.80,771.10 377.00,770.98 377.20,770.85 377.40,770.74 377.60,770.63 377.80,770.53 378.00,770.41 378.20,770.30 378.40,770.21 378.60,770.15 378.80,770.08 379.00,770.01 379.20,769.93 379.40,769.84 379.60,769.72 379.80,769.60 380.00,769.49 380.20,769.36 380.40,769.22 380.60,769.09 380.80,768.94 381.00,768.79 381.20,768.62 381.40,768.44 381.60,768.25 381.80,768.05 382.00,767.84 382.20,767.62 382.40,767.39 382.60,767.15 382.80,766.90 383.00,766.65 383.20,766.38 383.40,766.10 383.60,765.81 383.80,765.51 384.00,765.20 384.20,764.88 384.40,764.54 384.60,764.18 384.80,763.82 385.00,763.45 385.20,763.07 385.40,762.69 385.60,762.30 385.80,761.91 386.00,761.50 386.20,761.08 386.40,760.63 386.60,760.17 386.80,759.69 387.00,759.15 387.20,758.57 387.40,757.93 387.60,757.25 387.80,756.51 388.00,755.73 388.20,754.90 388.40,754.03 388.60,753.12 388.80,752.16 389.00,751.16 389.20,750.12 389.40,749.03 389.60,747.91 389.80,746.75 390.00,745.54 390.20,744.31 390.30,743.68 390.40,743.02 390.60,741.58 390.80,740.00 391.00,738.27 391.20,736.42 391.40,734.44 391.60,732.36 391.80,730.18 392.00,727.92 392.20,725.57 392.40,723.16 392.60,720.69 392.70,719.44 392.80,718.17 393.00,715.52 393.20,712.73 393.40,709.79 393.60,706.68 393.80,703.40 394.00,699.92 394.20,696.24 394.40,692.35 394.50,690.32 394.60,687.81 394.80,681.19 395.00,674.98 395.20,672.48 395.40,672.49 395.60,672.94 395.80,673.70 396.00,674.71 396.20,675.89 396.40,677.22 396.60,678.65 396.80,680.13 397.00,681.61 397.20,683.32 397.40,685.47 397.60,687.95 397.80,690.66 398.00,693.50 398.20,696.35 398.40,699.12 398.60,701.71 398.80,704.00 399.00,706.18 399.20,708.46 399.40,710.81 399.60,713.21 399.80,715.62 400.00,718.01 400.20,720.35 400.40,722.61 400.60,724.76 400.80,726.77 401.00,728.61 401.20,730.26 401.40,731.67 401.60,732.82 401.80,733.68 402.00,734.22 402.20,734.42 402.40,734.26 402.60,733.86 402.80,733.23 403.00,732.40 403.20,731.38 403.40,730.19 403.60,728.88 403.80,727.45 404.00,725.94 404.20,724.37 404.40,722.76 404.60,721.14 404.80,719.54 405.00,717.97 405.20,716.47 405.40,715.06 405.50,714.39 405.60,713.74 405.80,712.50 406.00,711.30 406.20,710.13 406.40,708.98 406.60,707.83 406.80,706.67 407.00,705.48 407.20,704.26 407.40,702.99 407.60,701.65 407.80,700.23 408.00,698.72 408.20,697.10 408.40,695.36 408.60,693.49 408.80,691.47 408.90,690.40 409.00,689.20 409.20,686.19 409.40,682.61 409.60,678.69 409.80,674.70 410.00,670.88 410.20,667.29 410.40,663.75 410.60,660.20 410.80,656.54 411.00,652.69 411.20,648.58 411.30,646.40 411.40,644.12 411.60,639.26 411.80,634.06 412.00,628.57 412.20,622.87 412.40,616.99 412.60,611.01 412.80,604.99 413.00,598.98 413.10,596.00 413.20,593.04 413.40,587.16 413.60,581.26 413.80,575.24 414.00,569.02 414.20,562.51 414.40,555.62 414.50,552.00 414.60,548.17 414.80,539.77 415.00,530.74 415.20,521.48 415.40,512.43 415.60,504.00 415.80,496.80 416.00,490.63 416.20,484.67 416.40,478.11 416.60,470.16 416.80,460.00 417.00,440.87 417.10,432.00 417.20,425.70 417.40,414.95 417.60,408.00 417.80,403.73 418.00,400.33 418.20,398.36 418.30,398.20 418.40,398.28 418.60,399.62 418.80,401.94 419.00,404.86 419.20,408.00 419.40,411.92 419.60,417.10 419.80,422.99 420.00,429.06 420.10,432.00 420.20,434.83 420.40,440.37 420.60,446.12 420.80,452.52 421.00,460.00 421.20,470.14 421.40,482.56 421.60,494.76 421.70,500.00 421.80,504.77 422.00,514.13 422.20,523.12 422.40,531.56 422.60,539.30 422.80,546.17 423.00,552.00 423.20,556.68 423.40,560.52 423.60,564.03 423.80,567.69 424.00,572.00 424.20,577.16 424.40,582.93 424.60,589.15 424.80,595.64 425.00,602.24 425.20,608.80 425.30,612.00 425.40,615.25 425.60,622.10 425.80,629.18 426.00,636.16 426.20,642.75 426.40,648.62 426.50,651.20 426.60,653.60 426.80,658.16 427.00,662.44 427.20,666.48 427.40,670.30 427.60,673.94 427.80,677.41 428.00,680.77 428.20,684.03 428.40,687.23 428.60,690.40 428.80,693.55 429.00,696.65 429.20,699.70 429.40,702.68 429.60,705.57 429.80,708.35 430.00,711.02 430.20,713.55 430.40,715.94 430.60,718.16 430.70,719.20 430.80,720.23 431.00,722.32 431.20,724.45 431.40,726.59 431.60,728.73 431.80,730.86 432.00,732.94 432.20,734.96 432.40,736.91 432.60,738.76 432.80,740.50 433.00,742.10 433.20,743.55 433.40,744.83 433.60,745.91 433.80,746.77 434.00,747.38 434.20,747.62 434.40,747.18 434.60,747.09 434.80,747.06 435.00,747.04 435.20,746.96 435.40,746.86 435.60,746.71 435.80,746.46 436.00,746.15 436.20,745.77 436.40,745.31 436.60,744.80 436.80,744.25 437.00,743.64 437.20,742.99 437.40,742.30 437.60,741.56 437.80,740.78 438.00,739.96 438.20,739.10 438.40,738.21 438.60,737.27 438.80,736.30 439.00,735.29 439.20,734.25 439.40,733.17 439.60,732.05 439.80,730.90 440.00,729.72 440.20,728.51 440.40,727.26 440.60,725.99 440.80,724.69 441.00,723.35 441.20,721.99 441.40,720.61 441.60,719.20 441.80,717.67 442.00,715.90 442.20,713.85 442.40,711.47 442.60,708.71 442.80,705.53 443.00,701.88 443.20,697.72 443.40,692.99 443.50,690.40 443.60,686.41 443.80,673.43 444.00,660.25 444.10,656.00 444.20,653.09 444.40,647.66 444.60,642.74 444.80,638.29 445.00,634.30 445.20,630.73 445.40,627.57 445.60,624.78 445.80,622.34 446.00,620.22 446.20,618.40 446.30,617.59 446.40,616.88 446.60,615.81 446.80,615.07 447.00,614.54 447.20,614.09 447.40,613.60 447.60,612.88 447.80,611.80 448.00,610.22 448.20,608.00 448.40,584.00 448.60,572.16 448.80,563.71 449.00,560.79 449.20,561.77 449.40,565.13 449.60,569.79 449.80,575.00 450.00,579.99 450.20,584.00 450.40,586.87 450.60,589.15 450.80,591.14 451.00,593.15 451.20,595.48 451.40,598.46 451.60,602.39 451.70,604.80 451.80,609.56 452.00,624.51 452.10,629.60 452.20,632.42 452.40,636.99 452.60,640.44 452.80,643.12 453.00,645.38 453.20,647.58 453.40,650.09 453.60,653.25 453.80,657.42 453.90,660.00 454.00,663.82 454.20,675.40 454.40,686.80 454.50,690.40 454.60,692.80 454.80,697.10 455.00,700.80 455.20,704.00 455.40,706.80 455.60,709.28 455.80,711.55 456.00,713.71 456.20,715.84 456.40,718.04 456.50,719.20 456.60,720.38 456.80,722.74 457.00,725.09 457.20,727.39 457.40,729.65 457.60,731.84 457.80,733.95 458.00,735.96 458.20,737.86 458.40,739.63 458.60,741.25 458.80,742.71 459.00,743.99 459.20,745.16 459.40,746.29 459.60,747.36 459.80,748.40 460.00,749.39 460.20,750.34 460.40,751.25 460.60,752.11 460.80,752.94 461.00,753.72 461.20,754.47 461.40,755.18 461.60,755.85 461.80,756.49 462.00,757.09 462.20,757.65 462.40,758.19 462.50,758.45 462.60,758.70 462.80,759.19 463.00,759.67 463.20,760.13 463.40,760.57 463.60,760.98 463.80,761.37 464.00,761.75 464.20,762.11 464.40,762.47 464.60,762.83 464.80,763.18 465.00,763.51 465.20,763.83 465.40,764.15 465.60,764.46 465.80,764.77 466.00,765.06 466.20,765.34 466.40,765.62 466.60,765.90 466.80,766.17 467.00,766.44 467.20,766.69 467.40,766.95 467.60,767.21 467.80,767.47 468.00,767.72 468.20,767.97 468.40,768.20 468.60,768.42 468.80,768.63 469.00,768.84 469.20,769.05 469.40,769.22 469.60,769.37 469.80,769.50 470.00,769.63 470.20,769.76 470.40,769.88 470.60,770.01 470.80,770.13 471.00,770.24 471.20,770.35 471.40,770.44 471.60,770.49 471.80,770.54 472.00,770.59 472.20,770.63 472.40,770.69 472.60,770.77 472.80,770.84 473.00,770.91 473.20,770.98 473.40,771.10 473.60,771.25 473.80,771.40 474.00,771.55 474.20,771.70 474.40,771.81 474.60,771.88 474.80,771.95 475.00,772.02 475.20,772.08 475.40,772.21 475.60,772.41 475.80,772.61 476.00,772.81 476.20,773.01 476.40,773.15 476.60,773.24 476.80,773.32 477.00,773.40 477.20,773.48 477.40,773.54 477.60,773.57 477.80,773.60 478.00,773.63 478.20,773.66 478.40,773.70 478.60,773.75 478.80,773.80 479.00,773.85 479.20,773.90 479.40,773.92 479.60,773.92 479.80,773.91 480.00,773.91 480.20,773.90 480.40,773.88 480.60,773.84 480.80,773.80 481.00,773.76 481.20,773.71 481.40,773.71 481.60,773.74 481.80,773.76 482.00,773.79 482.20,773.81 482.40,773.80 482.60,773.75 482.80,773.70 483.00,773.63 483.20,773.55 483.40,773.44 483.60,773.32 483.80,773.19 484.00,773.06 484.20,772.91 484.40,772.78 484.60,772.67 484.80,772.56 485.00,772.44 485.20,772.31 485.40,772.19 485.60,772.08 485.80,771.96 486.00,771.84 486.20,771.72 486.40,771.65 486.60,771.62 486.80,771.60 487.00,771.57 487.20,771.56 487.40,771.48 487.60,771.35 487.80,771.23 488.00,771.12 488.20,771.01 488.40,770.99 488.60,771.06 488.80,771.14 489.00,771.22 489.20,771.33 489.40,771.36 489.60,771.33 489.80,771.31 490.00,771.30 490.30,771.31 491.30,771.15 492.30,771.15 493.30,771.11 494.30,771.49 495.30,771.66 496.30,772.24 497.30,772.08 498.30,772.48 499.30,772.56 500.30,772.21 501.30,772.32 502.30,771.92 503.30,771.64 504.30,771.62 505.30,772.12 506.30,772.27 507.30,772.81 508.30,773.63 509.30,773.39 510.30,773.03 511.30,772.93 512.30,772.10 513.30,772.10 514.30,772.30 515.30,772.21 516.30,771.99 517.30,771.08 518.30,770.79 519.30,770.48 520.30,770.51 521.30,770.67 522.30,770.36 523.30,769.99 524.30,770.08 525.00,769.93 525.30,769.87 526.30,769.96 527.30,770.31 528.30,770.30 529.30,770.66 530.30,770.80 531.30,770.94 532.30,771.32 533.30,771.29 534.30,772.13 535.30,772.34 536.30,772.37 537.30,772.69 538.30,772.20 539.30,772.50 540.30,772.81 541.30,772.81 542.30,772.95 543.30,772.89 544.30,772.71 545.30,773.76 546.30,774.40 547.30,774.47 548.30,774.46 549.30,774.16 550.30,773.89 551.30,773.99 552.30,774.17 553.30,774.39 554.30,774.55 555.30,775.01 556.30,775.56 557.30,775.36 558.30,775.46 559.30,775.08 560.30,774.96 561.30,774.87 562.30,775.04 563.30,774.74 564.30,774.83 565.30,775.10 566.30,775.16 567.30,775.48 568.30,775.47 569.30,775.67 570.30,775.50 571.30,775.80 572.30,775.78 573.30,775.56 574.30,775.49 575.30,775.13 576.30,775.23 577.30,775.36 578.30,775.88 579.30,776.07 580.30,776.42 581.30,776.71 582.30,775.82 583.30,776.03 584.30,775.99 585.30,775.75 586.30,776.49 587.30,776.76 588.30,776.29 589.30,776.43 590.30,776.25 591.30,776.34 592.30,775.96 593.30,775.79 594.30,775.57 595.30,775.25 596.30,775.95 597.30,776.12 598.30,776.39 599.30,776.66 600.30,776.40 601.30,776.57 602.30,776.63 603.30,776.15 604.30,776.41 605.30,776.30 606.30,776.33 607.30,776.36 608.30,776.32 609.30,776.75 610.30,777.20 611.30,777.29 612.30,777.27 613.30,776.66 614.30,775.87 615.30,775.75 616.30,775.78 617.30,776.21 618.30,776.80 619.30,777.47 620.30,777.98 621.30,777.54 622.30,777.28 623.30,776.62 624.30,776.08 625.30,776.34 626.30,776.68 627.30,776.79 628.30,776.72 629.30,776.59 630.30,776.27 631.30,776.17 632.30,776.47 633.30,776.44 634.30,776.42 635.30,776.65 636.30,776.49 637.30,776.44 638.30,776.51 639.30,776.98 640.30,777.01 641.30,777.27 642.30,777.33 643.30,776.70 644.30,776.28 645.30,776.31 646.30,776.13 647.30,776.44 648.30,776.72 649.30,776.29 650.30,776.80 651.30,777.52 652.30,778.03 653.30,778.05 654.30,777.63 655.30,777.06 656.30,776.46 657.30,776.71 658.30,776.90 659.30,777.27 660.30,777.17 661.30,777.25 662.30,776.91 663.30,775.92 664.30,776.46 665.30,775.98 666.30,776.18 667.30,776.92 668.30,776.81 669.30,777.21 670.30,777.56 671.30,777.27 672.30,777.07 673.30,777.47 674.30,777.24 675.30,777.18 676.30,777.06 677.30,776.62 678.30,776.86 679.30,776.92 680.30,777.25 681.30,777.73 682.30,777.83 683.30,777.63 684.30,777.90 685.30,776.94 686.30,776.74 687.30,776.75 688.30,776.28 689.30,776.76 690.30,776.45 691.30,776.78 692.30,776.85 693.30,777.43 694.30,777.53 695.30,777.29 696.30,777.44 697.30,776.82 698.30,776.89 699.30,777.02 700.30,777.00 701.30,777.26 702.30,777.48 703.30,777.93 704.30,778.10 705.30,777.99 706.30,777.64 707.30,777.05 708.30,777.23 709.30,777.16 710.30,777.21 711.30,777.52 712.30,777.37 713.30,777.86 714.30,778.08 715.30,777.74 716.30,777.68 717.30,777.26 718.30,776.98 719.30,777.52 720.30,777.35 721.30,777.40 722.30,777.74 723.30,777.61 724.30,777.79 725.30,777.86 726.30,777.54 727.30,777.29 728.30,777.13 729.30,777.07 730.30,777.43 731.30,777.24 732.30,777.30 733.30,776.70 734.30,776.77 735.30,777.28 736.30,777.10 737.30,777.58 738.30,777.26 739.30,776.85 740.30,777.04 741.30,777.36 742.30,777.12 743.30,777.34 744.30,777.08 745.30,777.23 746.30,777.11 747.30,776.99 748.30,777.27 749.30,776.95 750.30,777.19 751.30,777.42 752.30,777.27 753.30,777.40 754.30,777.23 755.30,777.00 756.30,777.38 757.30,777.59 758.30,778.28 759.30,778.18 760.30,778.60 761.30,778.29 762.30,778.49 763.30,778.89 764.30,777.92 765.30,778.03 766.30,777.41 767.30,777.37 768.30,777.51 769.30,777.44 770.30,777.54 771.30,777.24 772.30,777.48 773.30,777.26 774.30,777.04 775.30,776.95 776.30,776.95 777.30,777.05 778.30,776.78 779.30,776.82 780.30,776.76 781.30,776.83 782.30,777.27 783.30,777.35 784.30,777.30 785.30,777.30 786.30,777.48 787.30,777.62 788.30,777.99 789.30,777.92 790.30,777.86 791.30,778.28 792.30,777.58 793.30,777.55 794.30,777.73 795.30,777.27 796.30,777.49 797.30,777.99 798.30,778.01 799.30,778.15 800.30,778.13 801.30,777.88 802.30,777.38 803.30,777.69 804.30,777.53 805.30,777.05 806.30,776.78 807.30,776.31 808.30,776.83 809.30,777.05 810.30,777.67 811.30,777.78 812.30,777.55 813.30,777.65 814.30,777.35 815.30,777.09 816.30,777.13 817.30,777.14 818.30,777.34 819.30,777.45 820.30,777.38 821.30,777.02 822.30,776.82 823.30,776.38 824.30,775.71 825.30,775.87 826.30,775.45 827.30,775.55 828.30,775.62 829.30,775.09 829.80,774.63 830.05,774.39 830.30,774.13 830.55,773.94 830.80,773.74 831.05,773.52 831.30,773.28 831.55,773.08 831.80,772.85 832.05,772.60 832.30,772.32 832.55,771.97 832.80,771.59 833.05,771.18 833.30,770.73 833.55,770.44 833.80,770.11 834.05,769.74 834.30,769.33 834.55,768.73 834.80,768.07 835.05,767.37 835.30,766.62 835.55,765.82 835.80,764.97 836.05,764.07 836.30,763.11 836.55,762.16 836.80,761.16 837.05,760.10 837.30,758.99 837.55,757.75 837.80,756.46 838.05,755.13 838.30,753.78 838.55,752.36 838.80,750.93 839.05,749.51 839.30,748.10 839.55,746.83 839.80,745.61 840.05,744.46 840.30,743.41 840.55,742.45 840.80,741.62 841.05,740.95 841.30,740.46 841.55,740.17 841.80,740.08 842.05,740.20 842.30,740.51 842.55,741.10 842.80,741.87 843.05,742.80 843.30,743.87 843.55,744.85 843.80,745.93 844.05,747.09 844.30,748.29 844.55,749.63 844.80,750.98 845.05,752.34 845.30,753.68 845.55,755.04 845.80,756.36 846.05,757.65 846.30,758.89 846.55,760.11 846.80,761.27 847.05,762.39 847.30,763.44 847.55,764.46 847.80,765.42 848.05,766.32 848.30,767.17 848.55,767.78 848.80,768.35 849.05,768.86 849.30,769.32 849.55,769.77 849.80,770.18 850.05,770.54 850.30,770.87 850.55,771.21 850.80,771.51 851.05,771.78 851.30,772.03 851.55,772.42 851.80,772.79 852.05,773.14 852.30,773.46 852.55,773.74 852.80,774.00 853.05,774.24 853.30,774.47 853.55,774.73 853.80,774.98 854.30,775.45 855.30,775.86 856.30,775.81 857.30,776.19 858.30,775.98 859.30,776.20 860.30,776.59 861.30,776.34 862.30,776.64 863.30,776.76 864.30,776.52 865.30,777.00 866.30,776.87 867.30,777.36 868.30,777.58 869.30,777.74 870.30,778.33 871.30,777.74 872.30,777.76 873.30,777.45 874.30,777.15 875.30,777.45 876.30,777.56 877.30,777.71 878.30,777.64 879.30,777.43 880.30,777.54 881.30,777.55 882.30,777.15 883.30,777.47 884.30,777.32 885.30,777.04 886.30,777.22 887.30,776.81 888.30,776.75 889.30,776.84 890.30,776.74 891.30,777.12 892.30,777.45 893.30,777.41 894.30,777.89 895.30,777.58 896.30,777.04 897.30,777.04 898.30,776.98 899.30,777.26 900.30,777.37 901.30,777.00 902.30,776.65 903.30,776.26 904.30,776.26 905.30,776.95 906.30,777.66 907.30,778.05 908.30,777.44 909.30,777.09 910.30,776.86 911.30,776.72 912.30,776.96 913.30,777.22 914.30,777.12 915.30,776.82 916.30,776.77 917.30,776.79 918.30,776.31 919.30,776.26 920.30,776.70 921.30,776.31 922.30,776.05 923.30,775.95 924.30,775.21 925.30,774.96 926.30,775.07 927.30,774.98 928.30,775.24 929.30,774.74 930.30,774.10 931.30,773.28 932.30,772.68 933.30,772.22 934.30,771.01 935.30,769.67 936.30,767.46 937.30,765.30 938.30,763.37 939.30,760.85 940.30,758.16 941.30,755.49 942.30,751.70 943.30,747.64 944.30,743.79 945.30,739.22 946.30,735.95 947.30,732.59 948.30,729.36 949.30,727.21 950.30,725.56 951.00,725.42 951.30,725.50 952.30,726.65 953.30,727.98 954.30,730.18 955.30,733.17 956.30,735.91 957.30,739.52 958.30,743.30 959.30,746.74 960.30,750.22 961.30,753.35 962.30,755.82 963.30,758.51 964.30,761.28 965.30,763.86 966.30,765.90 967.30,767.65 968.30,769.08 969.30,770.20 970.30,771.29 971.30,771.90 972.30,772.16 973.30,773.01 974.30,774.32 975.30,774.89 976.30,775.22 977.30,775.09 978.30,775.15 979.30,775.45 980.30,776.29 981.30,776.29 982.30,776.37 983.30,776.35 984.30,776.25 985.30,776.91 986.30,776.92 987.30,777.62 988.30,777.66 989.30,777.51 990.30,777.13 991.30,776.76 992.30,776.44 993.30,776.63 994.30,776.91 995.30,777.04 996.30,777.41 997.30,777.18 998.30,777.14 999.30,776.96 1000.30,777.48 1001.30,777.66 1002.30,778.06 1003.30,778.59 1004.30,778.59 1005.30,778.61 1006.30,778.18 1007.30,777.33 1008.30,777.24 1009.30,777.04 1010.30,777.59 1011.30,778.39 1012.30,778.27 1013.30,779.03 1014.30,779.11 1015.30,778.62 1016.30,778.37 1017.30,777.71 1018.30,776.92 1019.30,777.31 1020.30,777.42 1021.30,777.72 1022.30,778.07 1023.30,777.74 1024.30,777.49 1025.30,777.36 1026.30,777.25 1027.30,777.52 1028.30,778.11 1029.30,778.21 1030.30,778.35 1031.30,778.25 1032.30,777.81 1033.30,777.65 1034.30,778.11 1035.30,778.03 1036.30,777.84 1037.30,777.55 1038.30,777.48 1039.30,777.52 1040.30,777.89 1041.30,777.95 1042.30,777.56 1043.30,777.23 1044.30,777.39 1045.30,777.46 1046.30,777.97 1047.30,778.25 1048.30,778.23 1049.30,778.37 1050.30,777.81 1051.30,778.04 1052.30,777.84 1053.30,777.74 1054.30,778.10 1055.30,778.12 1056.30,777.90 1057.30,778.50 1058.30,778.41 1059.30,777.81 1060.30,778.29 1061.30,777.88 1062.30,777.59 1063.30,777.85 1064.30,777.76 1065.30,777.99 1066.30,777.89 1067.30,778.05 1068.30,777.60 1069.30,777.68 1070.30,777.69 1071.30,777.46 1072.30,777.76 1073.30,777.74 1074.30,778.10 1075.30,778.54 1076.30,778.46 1077.30,778.09 1078.30,778.16 1079.30,777.95 1080.30,778.06 1081.30,777.89 1082.30,777.85 1083.30,777.99 1084.30,778.02 1085.30,778.27 1086.30,777.81 1087.30,777.66 1088.30,777.37 1089.30,777.35 1090.30,777.75 1091.30,777.72 1092.30,778.17 1093.30,778.46 1094.30,778.36 1095.30,778.41 1096.30,777.54 1097.30,777.34 1098.30,777.25 1099.30,777.59 1100.30,778.76 1101.30,778.44 1102.30,778.49 1103.30,777.89 1104.30,777.04 1105.30,777.50 1106.30,777.49 1107.30,777.56 1108.30,777.77 1109.30,777.72 1110.30,777.95 1111.30,777.53 1112.30,777.54 1113.30,777.12 1114.30,777.03 1115.30,777.43 1116.30,777.37 1117.30,777.25 1118.30,777.17 1119.30,776.73 1120.30,776.69 1121.30,776.46 1122.30,775.91 1123.30,776.33 1124.30,775.66 1125.30,775.53 1126.30,775.34 1127.30,774.78 1128.30,775.03 1129.30,775.44 1130.30,775.08 1131.30,774.83 1132.30,773.24 1133.30,771.24 1134.30,769.18 1135.30,765.91 1136.30,763.30 1137.30,759.64 1138.30,756.06 1139.30,752.37 1140.30,747.10 1141.30,741.69 1142.30,735.25 1143.30,728.77 1144.30,723.63 1145.30,718.70 1146.30,716.82 1147.00,716.28 1147.30,716.37 1148.30,717.33 1149.30,721.41 1150.30,725.64 1151.30,731.30 1152.30,737.70 1153.30,743.62 1154.30,749.27 1155.30,754.43 1156.30,758.90 1157.30,762.18 1158.30,765.53 1159.30,768.21 1160.30,770.17 1161.30,771.91 1162.30,772.58 1163.30,773.55 1164.30,774.19 1165.30,775.23 1166.30,776.12 1167.30,776.26 1168.30,776.53 1169.30,776.24 1170.30,775.76 1171.30,775.84 1172.30,775.84 1173.30,776.13 1174.30,776.74 1175.30,776.38 1176.30,777.14 1177.30,777.21 1178.30,777.36 1179.30,777.47 1180.30,777.18 1181.30,777.22 1182.30,777.03 1183.30,777.44 1184.30,777.58 1185.30,778.03 1186.30,777.86 1187.30,778.06 1188.30,778.64 1189.30,778.73 1190.30,779.27 1191.30,778.84 1192.30,778.36 1193.30,777.98 1194.30,777.70 1195.30,778.64 1196.30,778.60 1197.30,778.68 1198.30,779.21 1199.30,778.42 1200.30,778.17 1201.30,778.14 1202.30,778.05 1203.30,778.44 1204.30,778.18 1205.30,778.16 1206.30,778.05 1207.30,777.46 1208.30,777.81 1209.30,777.92 1210.30,777.92 1211.30,777.99 1212.30,777.76 1213.30,777.72 1214.30,777.47 1215.30,777.81 1216.30,778.41 1217.30,778.87 1218.30,779.63 1219.30,779.54 1220.30,779.07 1221.30,778.47 1222.30,778.25 1223.30,778.01 1224.30,777.60 1225.30,777.55 1226.30,777.09 1227.30,777.28 1228.30,777.82 1229.30,778.28 1230.30,778.54 1231.30,778.59 1232.30,778.13 1233.30,777.92 1234.30,777.66 1235.30,778.13 1236.30,778.84 1237.30,778.69 1238.30,778.30 1239.30,778.04 1240.30,778.00 1241.30,777.77 1242.30,778.64 1243.30,778.48 1244.30,777.95 1245.30,777.67 1246.30,777.71 1247.30,777.54 1248.30,778.16 1249.30,778.32 1250.30,778.27 1251.30,779.02 1252.30,778.50 1253.30,778.56 1254.30,778.38 1255.30,777.81 1256.30,778.10 1257.30,778.08 1258.30,777.89 1259.30,777.71 1260.30,778.00 1261.30,778.01 1262.30,777.82 1263.30,778.44 1264.30,778.14 1265.30,778.29 1266.30,778.47 1267.30,778.09 1268.30,778.09 1269.30,778.54 1270.30,778.74 1271.30,778.77 1272.30,778.67 1273.30,778.98 1274.30,779.02 1275.30,779.12 1276.30,779.30 1277.30,778.86 1278.30,778.75 1279.30,778.83 1280.30,778.93 1281.30,778.89 1282.30,778.96 1283.30,778.78 1284.30,778.67 1285.30,778.77 1286.30,778.67 1287.30,778.54 1288.30,778.80 1289.30,778.80 1290.30,778.59 1291.30,778.83 1292.30,778.69 1293.30,778.46 1294.30,778.78 1295.30,778.09 1296.30,777.87 1297.30,777.58 1298.30,777.01 1299.30,777.82 1300.30,778.58 1301.30,778.60 1302.30,778.96 1303.30,778.99 1304.30,777.81 1305.30,778.20 1306.30,778.47 1307.30,777.64 1308.30,778.35 1309.30,778.50 1310.30,778.30 1311.30,779.25 1312.30,778.94 1313.30,778.73 1314.30,778.84 1315.30,778.53 1316.30,778.82 1317.30,778.62 1318.30,778.27 1319.30,777.92 1320.30,777.80 1321.30,778.20 1322.30,778.89 1323.30,779.60 1324.30,779.12 1325.30,778.94 1326.30,778.90 1327.30,778.14 1328.30,778.73 1329.30,778.31 1330.30,777.82 1331.30,778.27 1332.30,778.39 1333.30,778.72 1334.30,778.51 1335.30,777.82 1336.30,777.02 1337.30,777.21 1338.30,777.33 1339.30,777.75 1340.30,778.25 1341.30,778.14 1342.30,778.66 1343.30,778.65 1344.30,778.70 1345.30,778.51 1346.30,777.86 1347.30,777.48 1348.30,777.21 1349.30,776.74 1350.30,776.29 1351.30,776.74 1352.30,776.25 1353.30,775.96 1354.30,775.86 1355.30,775.25 1356.30,774.94 1357.30,775.22 1358.30,775.17 1359.30,774.92 1360.30,774.89 1361.30,773.83 1362.30,773.12 1363.30,771.93 1364.30,770.40 1365.30,768.94 1366.30,767.14 1367.30,765.21 1368.30,763.58 1369.30,761.78 1370.30,759.01 1371.30,756.15 1372.30,753.01 1373.30,749.41 1374.30,746.26 1375.30,742.97 1376.30,739.12 1377.30,735.39 1378.30,731.40 1379.30,727.45 1380.30,723.59 1381.30,720.11 1382.30,716.94 1383.30,714.43 1384.30,712.88 1385.30,711.82 1386.30,711.11 1386.60,711.06 1387.30,711.17 1388.30,711.63 1389.30,712.39 1390.30,714.36 1391.30,717.09 1392.30,719.96 1393.30,724.04 1394.30,727.60 1395.30,731.25 1396.30,734.85 1397.30,737.76 1398.30,741.51 1399.30,744.94 1400.30,748.35 1401.30,751.76 1402.30,754.82 1403.30,757.05 1404.30,759.40 1405.30,761.52 1406.30,763.58 1407.30,765.35 1408.30,767.11 1409.30,768.48 1410.30,768.90 1411.30,770.27 1412.30,770.84 1413.30,771.80 1414.30,773.23 1415.30,774.14 1416.30,774.68 1417.30,775.10 1418.30,775.80 1419.30,775.98 1420.30,776.40 1421.30,776.87 1422.30,776.95 1423.30,777.12 1424.30,777.16 1425.30,777.22 1426.30,776.96 1427.30,776.82 1428.30,777.21 1429.30,777.19 1430.30,777.26 1431.30,777.48 1432.30,777.63 1433.30,777.25 1434.30,777.02 1435.30,777.25 1436.30,777.39 1437.30,777.86 1438.30,777.80 1439.30,777.75 1440.30,777.49 1441.30,777.61 1442.30,778.04 1443.30,777.72 1444.30,778.10 1445.30,777.95 1446.30,778.13 1447.30,777.88 1448.30,777.56 1449.30,778.04 1450.30,777.96 1451.30,778.58 1452.30,778.85 1453.30,778.81 1454.30,778.77 1455.30,778.37 1456.30,778.34 1457.30,777.69 1458.30,777.45 1459.30,778.05 1460.30,777.60 1461.30,777.71 1462.30,778.02 1463.30,777.28 1464.30,777.30 1465.30,777.53 1466.30,777.17 1467.30,777.16 1468.30,777.10 1469.30,777.20 1470.30,777.40 1471.30,777.82 1472.30,778.10 1473.30,777.85 1474.30,777.73 1475.30,777.51 1476.30,777.03 1477.30,776.97 1478.30,776.90 1479.30,776.16 1480.30,775.63 1481.30,774.93 1482.30,774.32 1483.30,773.96 1484.30,773.76 1485.30,773.55 1486.30,773.57 1487.00,773.54 1487.30,773.56 1488.30,773.79 1489.30,773.77 1490.30,773.88 1491.30,774.46 1492.30,775.30 1493.30,775.88 1494.30,776.25 1495.30,776.56 1496.30,776.65 1497.30,777.42 1498.30,777.70 1499.30,777.92 1500.30,778.21 1501.30,777.89 1502.30,778.52 1503.30,778.59 1504.30,778.40 1505.30,778.46 1506.30,777.81 1507.30,777.88 1508.30,777.77 1509.30,777.70 1510.30,777.90 1511.30,777.99 1512.30,777.92 1513.30,778.01 1514.30,778.08 1515.30,778.49 1516.30,778.83 1517.30,778.14 1518.30,778.23 1519.30,777.71 1520.30,777.41 1521.30,777.71 1522.30,776.84 1523.30,777.00 1524.30,777.10 1525.30,777.58 1526.30,777.97 1527.30,777.72 1528.30,777.44 1529.30,776.97 1530.30,777.81 1531.30,777.53 1532.30,777.63 1533.30,777.65 1534.30,776.33 1535.30,776.05 1536.30,775.68 1537.30,774.95 1538.30,774.65 1539.30,774.05 1540.30,772.89 1541.30,771.75 1542.30,770.06 1543.30,767.97 1544.30,765.50 1545.30,763.39 1546.30,761.54 1547.30,759.88 1548.30,759.09 1549.00,758.82 1549.30,758.84 1550.30,759.27 1551.30,760.29 1552.30,762.03 1553.30,763.76 1554.30,766.07 1555.30,768.92 1556.30,770.90 1557.30,773.16 1558.30,774.26 1559.30,774.86 1560.30,775.57 1561.30,775.43 1562.30,775.89 1563.30,776.32 1564.30,776.56 1565.30,777.56 1566.30,777.41 1567.00,777.36 1567.25,777.34 1567.30,777.33 1567.50,777.31 1567.75,777.27 1568.00,777.23 1568.25,777.18 1568.30,777.17 1568.50,777.02 1568.75,776.83 1569.00,776.64 1569.25,776.43 1569.30,776.39 1569.50,776.36 1569.75,776.32 1570.00,776.26 1570.25,776.20 1570.30,776.19 1570.50,776.07 1570.75,775.91 1571.00,775.74 1571.25,775.56 1571.30,775.53 1571.50,775.45 1571.75,775.34 1572.00,775.22 1572.25,775.10 1572.30,775.07 1572.50,774.96 1572.75,774.82 1573.00,774.67 1573.25,774.51 1573.30,774.47 1573.50,774.35 1573.75,774.20 1574.00,774.04 1574.25,773.87 1574.30,773.84 1574.50,773.72 1574.75,773.58 1575.00,773.43 1575.25,773.28 1575.30,773.25 1575.50,773.12 1575.75,772.97 1576.00,772.81 1576.25,772.66 1576.30,772.63 1576.50,772.39 1576.75,772.10 1577.00,771.81 1577.25,771.54 1577.30,771.49 1577.50,771.44 1577.75,771.40 1578.00,771.38 1578.25,771.38 1578.30,771.38 1578.50,771.33 1578.75,771.28 1579.00,771.25 1579.25,771.25 1579.30,771.25 1579.50,771.14 1579.75,771.02 1580.00,770.91 1580.25,770.83 1580.30,770.81 1580.50,770.94 1580.75,771.10 1581.00,771.28 1581.25,771.47 1581.30,771.50 1581.50,771.49 1581.75,771.48 1582.00,771.47 1582.25,771.46 1582.30,771.45 1582.50,771.61 1582.75,771.79 1583.00,771.96 1583.25,772.13 1583.30,772.16 1583.50,772.37 1583.75,772.63 1584.00,772.87 1584.25,773.09 1584.30,773.14 1584.50,773.17 1584.75,773.20 1585.00,773.22 1585.25,773.21 1585.30,773.21 1585.50,773.15 1585.75,773.07 1586.00,772.97 1586.25,772.85 1586.30,772.83 1586.50,772.63 1586.75,772.37 1587.00,772.10 1587.25,771.83 1587.30,771.77 1587.50,771.50 1587.75,771.15 1588.00,770.80 1588.25,770.45 1588.30,770.38 1588.50,770.22 1588.75,770.03 1589.00,769.84 1589.25,769.67 1589.30,769.63 1589.50,769.63 1589.75,769.65 1590.00,769.68 1590.25,769.74 1590.30,769.76 1590.50,769.82 1590.75,769.92 1591.00,770.05 1591.25,770.20 1591.30,770.24 1591.50,770.34 1591.75,770.48 1592.00,770.64 1592.25,770.81 1592.30,770.84 1592.50,770.99 1592.75,771.17 1593.00,771.37 1593.25,771.58 1593.30,771.62 1593.50,771.69 1593.75,771.79 1594.00,771.90 1594.25,772.01 1594.30,772.03 1594.50,772.11 1594.75,772.22 1595.00,772.34 1595.25,772.45 1595.30,772.48 1595.50,772.59 1595.75,772.73 1596.00,772.88 1596.25,773.02 1596.30,773.05 1596.50,773.19 1596.75,773.36 1597.00,773.53 1597.25,773.70 1597.30,773.74 1597.50,773.83 1597.75,773.94 1598.00,774.04 1598.25,774.15 1598.30,774.17 1598.50,774.29 1598.75,774.45 1599.00,774.60 1599.25,774.74 1599.30,774.77 1599.50,775.06 1599.75,775.42 1600.00,775.78 1600.25,776.13 1600.30,776.20 1600.50,776.31 1600.75,776.44 1601.00,776.56 1601.25,776.68 1601.30,776.71 1601.50,776.91 1601.75,777.16 1602.00,777.41 1602.25,777.65 1602.30,777.70 1602.50,777.86 1602.75,778.07 1603.00,778.27 1603.30,778.50 1604.30,778.19 1605.30,778.44 1606.30,778.40 1607.30,778.55 1608.30,778.94 1609.30,779.07 1610.30,779.39 1611.30,779.06 1612.30,779.06 1613.30,779.71 1614.30,779.32 1615.30,779.41 1616.30,779.56 1617.30,779.21 1618.30,779.58 1619.30,779.92 1620.30,779.81 1621.30,779.63 1622.30,779.53 1623.30,779.07 1624.30,778.97 1625.30,778.71 1626.30,778.71 1627.30,778.49 1628.30,778.35 1629.30,778.98 1630.30,779.08 1631.30,779.47 1632.30,779.96 1633.30,779.86 1634.30,779.52 1635.30,779.77 1636.30,779.17 1637.30,778.70 1638.30,779.19 1639.30,778.80 1640.30,778.99 1641.30,779.44 1642.30,779.27 1643.30,779.12 1644.30,779.46 1645.30,779.30 1646.30,779.55 1647.30,779.59 1648.30,779.47 1649.30,779.23 1650.30,779.03 1651.30,779.10 1652.30,778.90 1653.30,779.02 1654.30,778.97 1655.30,779.11 1656.30,779.63 1657.30,779.49 1658.30,779.41 1659.30,779.68 1660.30,779.29 1661.30,779.41 1662.30,779.05 1663.30,779.14 1664.30,778.75 1665.30,778.85 1666.30,779.02 1667.30,778.41 1668.30,778.73 1669.30,778.55 1670.30,778.59 1671.30,778.94 1672.30,778.77 1673.30,778.77 1674.30,779.08 1675.30,779.35 1676.30,779.36 1677.30,779.57 1678.30,779.47 1679.30,779.05 1680.30,779.40 1681.30,779.56 1682.30,779.82 1683.30,780.53 1684.30,780.25 1685.30,780.17 1686.30,779.33 1687.30,779.08 1688.30,779.15 1689.30,778.73 1690.30,779.20 1691.30,778.93 1692.30,778.90 1693.30,779.38 1694.30,779.09 1695.30,778.67 1696.30,778.36 1697.30,778.18 1698.30,778.57 1699.30,779.14 1700.30,780.06 1701.30,780.30 1702.30,780.25 1703.30,780.15 1704.30,779.83 1705.30,779.23 1706.30,779.27 1707.30,779.16 1708.30,778.93 1709.30,779.31 1710.30,779.02 1711.30,779.04 1712.30,779.17 1713.30,778.93 1714.30,778.61 1715.30,778.19 1716.30,777.84 1717.30,778.22 1718.30,778.77 1719.30,778.82 1720.30,778.84 1721.30,778.01 1722.30,777.69 1723.30,777.47 1724.30,776.86 1725.30,776.82 1726.30,776.09 1727.30,775.90 1728.30,775.94 1729.30,775.72 1730.30,775.31 1731.30,774.47 1732.30,773.78 1733.30,772.96 1734.30,773.30 1735.00,773.24 1735.30,773.23 1736.30,772.77 1737.30,772.98 1738.30,772.60 1739.30,773.19 1740.30,774.24 1741.30,774.84 1742.30,775.46 1743.30,776.12 1744.30,776.42 1745.30,777.10 1746.30,777.53 1747.30,777.38 1748.30,778.02 1749.30,777.75 1750.30,777.94 1751.30,778.92 1752.30,778.68 1753.30,778.83 1754.30,778.79 1755.30,778.23 1756.30,778.15 1757.30,778.01 1758.30,778.00 1759.30,778.18 1760.30,778.33 1761.30,778.66 1762.30,779.18 1763.30,778.73 1764.30,778.80 1765.30,778.89 1766.30,778.42 1767.30,778.48 1768.30,778.42 1769.30,778.31 1770.30,777.90 1771.30,778.24 1772.30,778.01 1773.30,777.93 1774.30,778.10 1775.30,777.48 1776.30,776.91 1777.30,776.17 1778.30,775.61 1779.30,774.75 1780.30,774.54 1781.30,773.77 1782.30,773.01 1783.30,772.62 1784.30,771.38 1785.30,770.56 1786.30,770.10 1787.30,769.33 1788.30,768.40 1789.30,767.48 1790.30,766.35 1791.30,765.02 1792.30,764.75 1793.30,764.55 1794.30,764.02 1795.30,764.27 1796.00,764.01 1796.30,763.93 1797.30,763.77 1798.30,764.28 1799.30,764.50 1800.30,764.92 1801.30,765.69 1802.30,766.37 1803.30,767.04 1804.30,767.97 1805.30,768.86 1806.30,769.60 1807.30,769.74 1808.30,770.59 1809.30,771.40 1810.30,772.09 1811.30,773.38 1812.30,774.15 1813.30,773.96 1814.30,774.27 1815.30,774.80 1816.30,775.08 1817.30,775.35 1818.30,775.54 1819.30,775.72 1820.30,776.02 1821.30,776.73 1822.30,777.10 1823.30,777.36 1824.30,777.41 1825.30,777.89 1826.30,777.99 1827.30,778.07 1828.30,778.00 1829.30,777.97 1830.30,778.35 1831.30,778.45 1832.30,778.72 1833.30,778.33 1834.30,778.31 1835.30,778.57 1836.30,778.18 1837.30,778.43 1838.30,778.36 1839.30,777.94 1840.30,778.75 1841.30,778.93 1842.30,778.52 1843.30,778.35 1844.30,777.97 1845.30,777.81 1846.30,778.23 1847.30,778.65 1848.30,778.19 1849.30,778.50 1850.30,778.70 1851.30,779.39 1852.30,779.99 1853.30,780.07 1854.30,780.16 1855.30,779.59 1856.30,779.34 1857.30,778.83 1858.30,778.53 1859.30,778.27 1860.30,778.34 1861.30,778.46 1862.30,778.14 1863.30,778.13 1864.30,777.46 1865.30,777.13 1866.30,776.69 1867.30,776.29 1868.30,776.04 1869.30,775.86 1870.30,775.71 1871.30,775.75 1872.30,775.53 1873.30,774.95 1873.50,774.93 1874.30,774.89 1875.30,774.46 1876.30,775.06 1877.30,775.44 1878.30,775.63 1879.30,776.27 1880.30,776.63 1881.30,777.53 1882.30,777.88 1883.30,777.91 1884.30,777.22 1885.30,777.08 1886.30,777.25 1887.30,777.81 1888.30,778.95 1889.30,779.21 1890.30,779.27 1891.30,779.06 1892.30,778.86 1893.30,778.90 1894.30,779.12 1895.30,779.19 1896.30,779.37 1897.30,779.20 1898.30,779.18 1899.30,779.53 1900.30,779.35 1901.30,779.37 1902.30,779.42 1903.30,779.56 1904.30,779.28 1905.30,779.41 1906.30,779.54 1907.30,779.00 1908.30,779.39 1909.30,779.26 1910.30,779.39 1911.30,779.17 1912.30,779.13 1913.30,778.62 1914.30,778.08 1915.30,778.66 1916.30,779.11 1917.30,779.38 1918.30,779.26 1919.30,778.72 1920.30,778.32 1921.30,779.09 1922.30,779.39 1923.30,779.68 1924.30,779.85 1925.30,779.47 1926.30,779.59 1927.30,779.63 1928.30,779.92 1929.30,779.86 1930.30,779.95 1931.30,779.82 1932.30,779.38 1933.30,779.24 1934.30,779.23 1935.30,779.47 1936.30,779.85 1937.30,779.85 1938.30,780.23 1939.30,780.31 1940.30,779.76 1941.30,779.84 1942.30,779.01 1943.30,779.32 1944.30,779.13 1945.30,779.20 1946.30,779.84 1947.30,779.59 1948.30,780.20 1949.30,780.29 1950.30,779.71 1951.30,779.59 1952.30,779.71 1953.30,779.85 1954.30,780.53 1955.30,780.18 1956.30,779.36 1957.30,778.82 1958.30,778.23 1959.30,778.04 1960.30,778.44 1961.30,778.88 1962.30,779.36 1963.30,779.93 1964.30,780.38 1965.30,779.80 1966.30,779.90 1967.30,780.02 1968.30,779.22 1969.30,779.83 1970.30,779.58 1971.30,779.01 1972.30,779.67 1973.30,779.94 1974.30,779.94 1975.30,779.94 1975.90,779.94" fill="none" stroke="#ec0c0c" stroke-width="9.0" stroke-linejoin="round" stroke-linecap="butt"/>
</g>
<path d="M410.5,659 V605 H412.3 V585 H417.8 V659 Z" fill="#000"/>
<path d="M437.5,777 H448 V798.7 H449.9 V823 Q447.6,816.6 444.1,816.6 Q440.6,816.6 438.6,823 L437.5,823 Z" fill="#fff"/>
<!-- peak labels -->
<text class="gk" transform="translate(435.99,195.17) scale(0.7011,0.6369)" stroke="#000" stroke-width="1.35" stroke-linejoin="round">β</text>
<text class="gk" transform="translate(936.62,544.00) scale(0.6968,0.6359)" stroke="#000" stroke-width="1.35" stroke-linejoin="round">β</text>
<text class="gk" transform="translate(1361.87,850.08) scale(0.6731,0.6226)" stroke="#000" stroke-width="1.39" stroke-linejoin="round">β</text>
<text class="gk" transform="translate(1775.03,915.13) scale(0.6946,0.6297)" stroke="#000" stroke-width="1.36" stroke-linejoin="round">β</text>
<text class="gk" transform="translate(235.30,820.02) scale(0.7000,0.5780)">α</text>
<text class="gk" transform="translate(340.66,783.41) scale(0.7083,0.5927)">α</text>
<text class="gk" transform="translate(449.86,654.21) scale(0.7083,0.5927)">α</text>
<text class="gk" transform="translate(797.17,866.92) scale(0.7067,0.5835)">α</text>
<text class="gk" transform="translate(1116.08,847.62) scale(0.7033,0.5835)">α</text>
<text class="gk" transform="translate(1519.80,906.42) scale(0.7000,0.5835)">α</text>
<!-- legend -->
<rect x="618.9" y="267.2" width="157.6" height="8.7" rx="4.3" fill="#000"/>
<rect x="618.9" y="365.2" width="157.6" height="8.4" rx="4.2" fill="#ec0c0c"/>
<text class="ls b" transform="translate(578.72,292.80) scale(0.8833,0.7928)">1</text>
<rect x="579.48" y="283.29" width="19.55" height="12.68" fill="#fff"/>
<rect x="611.84" y="283.29" width="16.78" height="12.68" fill="#fff"/>
<text class="ls b" transform="translate(791.52,292.60) scale(0.7757,0.7580)" stroke="#000" stroke-width="0.65" stroke-linejoin="round">initial</text>
<text class="ls b" transform="translate(1015.54,292.60) scale(0.7287,0.7620)" stroke="#000" stroke-width="0.67" stroke-linejoin="round">+</text>
<text class="ls b" transform="translate(1082.76,292.60) scale(0.7630,0.7620)" stroke="#000" stroke-width="0.66" stroke-linejoin="round">annealing(600</text>
<text class="ls" transform="translate(1610.74,304.35) scale(0.8607,0.8607)">°</text>
<text class="ls b" transform="translate(1642.70,292.40) scale(0.7620,0.7820)" stroke="#000" stroke-width="0.65" stroke-linejoin="round">C,</text>
<text class="ls b" transform="translate(1740.49,292.80) scale(0.8867,0.7928)">1</text>
<rect x="1741.27" y="283.29" width="19.62" height="12.68" fill="#fff"/>
<rect x="1773.74" y="283.29" width="16.85" height="12.68" fill="#fff"/>
<text class="ls b" transform="translate(1803.05,292.60) scale(0.7719,0.7750)" stroke="#000" stroke-width="0.65" stroke-linejoin="round">h, WQ)</text>
<text class="ls b" transform="translate(580.67,392.50) scale(0.7521,0.7886)">2</text>
<text class="ls b" transform="translate(793.69,392.20) scale(0.7626,0.7820)" stroke="#000" stroke-width="0.65" stroke-linejoin="round">ECAP-C</text>
<text class="ls b" transform="translate(1109.13,392.20) scale(0.7638,0.7820)" stroke="#000" stroke-width="0.65" stroke-linejoin="round">(350...300</text>
<text class="ls" transform="translate(1474.14,404.40) scale(0.8607,0.8786)">°</text>
<text class="ls b" transform="translate(1505.37,392.20) scale(0.7689,0.7820)" stroke="#000" stroke-width="0.64" stroke-linejoin="round">C)</text>
<!-- curve numbers -->
<text class="ls b" transform="translate(1991.41,1015.30) scale(0.6250,0.6700)" stroke="#000" stroke-width="1.24" stroke-linejoin="round">2</text>
<text class="ls b" transform="translate(2009.42,1310.70) scale(0.6833,0.6826)" stroke="#000" stroke-width="0.88" stroke-linejoin="round">1</text>
<rect x="2009.78" y="1302.51" width="15.05" height="10.92" fill="#fff"/>
<rect x="2035.34" y="1302.51" width="12.98" height="10.92" fill="#fff"/>
<!-- x tick labels -->
<text class="ls b" transform="translate(399.74,1499.18) scale(0.7763,0.8225)" letter-spacing="4.0">40</text>
<text class="ls b" transform="translate(1012.28,1499.18) scale(0.7777,0.8225)" letter-spacing="4.0">60</text>
<text class="ls b" transform="translate(1623.69,1499.18) scale(0.7685,0.8225)" letter-spacing="4.0">80</text>
<!-- x label -->
<text class="ls b i" transform="translate(989.47,1626.00) scale(0.9821,1.1014)">2</text>
<text class="gk i" transform="translate(1050.71,1626.62) scale(0.9698,0.8790)" stroke="#000" stroke-width="1.08" stroke-linejoin="round">θ</text>
</svg>
</body>
</html>
